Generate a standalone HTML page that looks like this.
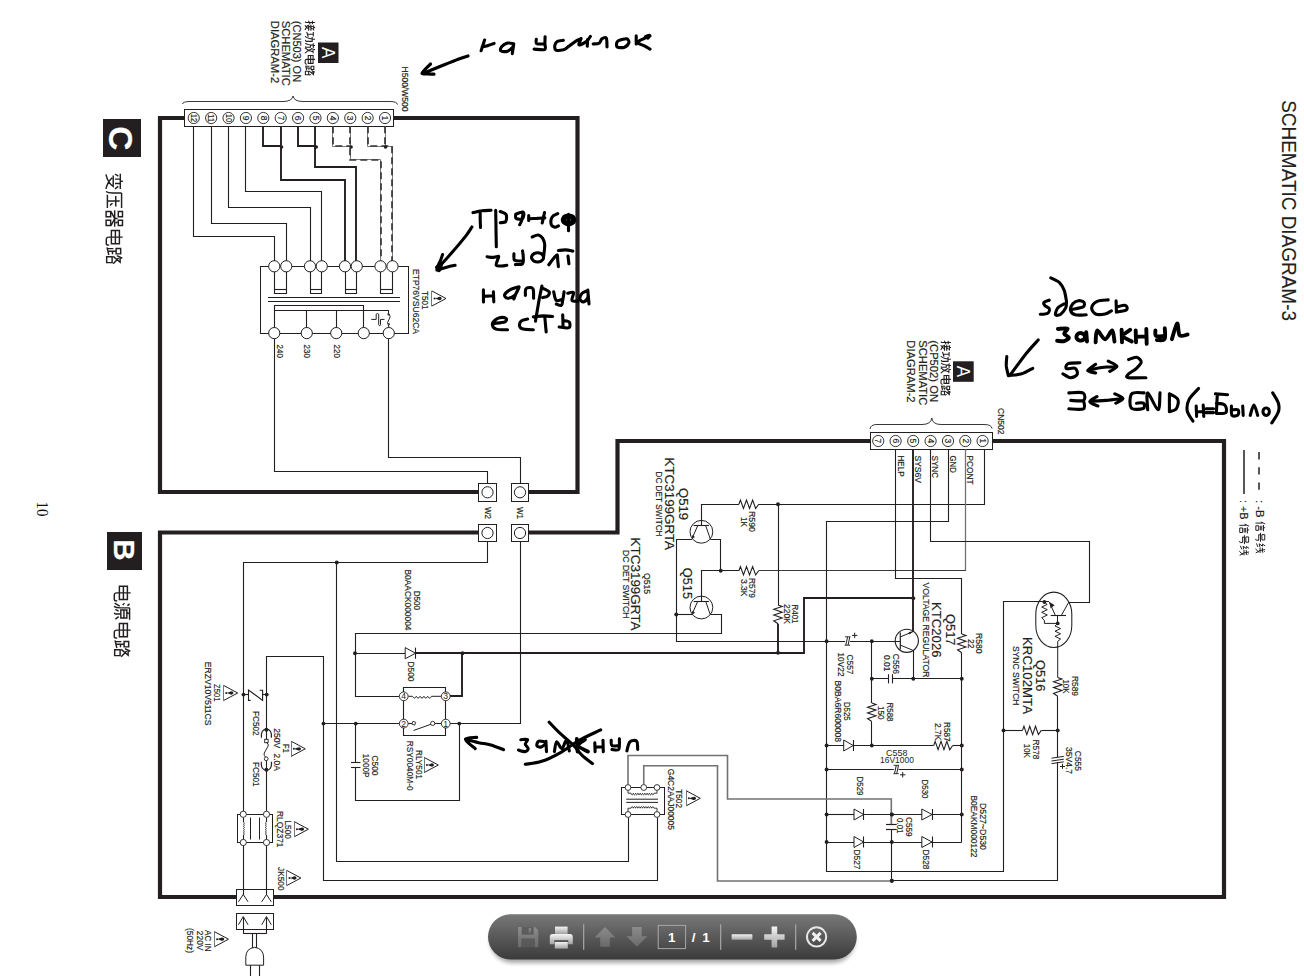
<!DOCTYPE html>
<html><head><meta charset="utf-8"><title>Schematic Diagram-3</title>
<style>html,body{margin:0;padding:0;background:#fff;overflow:hidden}svg{display:block}</style></head>
<body>
<svg width="1304" height="976" viewBox="0 0 1304 976">
<rect width="1304" height="976" fill="#fff"/>
<path d="M184 118 L160 118 L160 492 L478 492" stroke="#231f20" stroke-width="4.2" fill="none" />
<path d="M529 492 L577.5 492 L577.5 118 L394 118" stroke="#231f20" stroke-width="4.2" fill="none" />
<path d="M478 532.5 L160 532.5 L160 897 L236 897" stroke="#231f20" stroke-width="4.2" fill="none" />
<path d="M274 897 L1224 897 L1224 441 L992 441" stroke="#231f20" stroke-width="4.2" fill="none" />
<path d="M870 441 L617.5 441 L617.5 532.5 L529 532.5" stroke="#231f20" stroke-width="4.2" fill="none" />
<rect x="184.5" y="109.5" width="209" height="17" fill="#fff" stroke="#231f20" stroke-width="1"/>
<circle cx="193.75" cy="118" r="5.6" fill="#fff" stroke="#231f20" stroke-width="0.9"/>
<text transform="translate(190.954 113.9) rotate(90)" font-family="Liberation Sans" font-size="8.6" font-weight="normal" fill="#231f20" stroke="#231f20" stroke-width="0.18" textLength="8.2" lengthAdjust="spacingAndGlyphs">12</text>
<circle cx="211.14" cy="118" r="5.6" fill="#fff" stroke="#231f20" stroke-width="0.9"/>
<text transform="translate(208.344 113.9) rotate(90)" font-family="Liberation Sans" font-size="8.6" font-weight="normal" fill="#231f20" stroke="#231f20" stroke-width="0.18" textLength="8.2" lengthAdjust="spacingAndGlyphs">11</text>
<circle cx="228.53" cy="118" r="5.6" fill="#fff" stroke="#231f20" stroke-width="0.9"/>
<text transform="translate(225.734 113.9) rotate(90)" font-family="Liberation Sans" font-size="8.6" font-weight="normal" fill="#231f20" stroke="#231f20" stroke-width="0.18" textLength="8.2" lengthAdjust="spacingAndGlyphs">10</text>
<circle cx="245.92" cy="118" r="5.6" fill="#fff" stroke="#231f20" stroke-width="0.9"/>
<text transform="translate(243.124 115.65) rotate(90)" font-family="Liberation Sans" font-size="8.6" font-weight="normal" fill="#231f20" stroke="#231f20" stroke-width="0.18" textLength="4.7" lengthAdjust="spacingAndGlyphs">9</text>
<circle cx="263.31" cy="118" r="5.6" fill="#fff" stroke="#231f20" stroke-width="0.9"/>
<text transform="translate(260.514 115.65) rotate(90)" font-family="Liberation Sans" font-size="8.6" font-weight="normal" fill="#231f20" stroke="#231f20" stroke-width="0.18" textLength="4.7" lengthAdjust="spacingAndGlyphs">8</text>
<circle cx="280.7" cy="118" r="5.6" fill="#fff" stroke="#231f20" stroke-width="0.9"/>
<text transform="translate(277.904 115.65) rotate(90)" font-family="Liberation Sans" font-size="8.6" font-weight="normal" fill="#231f20" stroke="#231f20" stroke-width="0.18" textLength="4.7" lengthAdjust="spacingAndGlyphs">7</text>
<circle cx="298.09" cy="118" r="5.6" fill="#fff" stroke="#231f20" stroke-width="0.9"/>
<text transform="translate(295.294 115.65) rotate(90)" font-family="Liberation Sans" font-size="8.6" font-weight="normal" fill="#231f20" stroke="#231f20" stroke-width="0.18" textLength="4.7" lengthAdjust="spacingAndGlyphs">6</text>
<circle cx="315.48" cy="118" r="5.6" fill="#fff" stroke="#231f20" stroke-width="0.9"/>
<text transform="translate(312.684 115.65) rotate(90)" font-family="Liberation Sans" font-size="8.6" font-weight="normal" fill="#231f20" stroke="#231f20" stroke-width="0.18" textLength="4.7" lengthAdjust="spacingAndGlyphs">5</text>
<circle cx="332.87" cy="118" r="5.6" fill="#fff" stroke="#231f20" stroke-width="0.9"/>
<text transform="translate(330.074 115.65) rotate(90)" font-family="Liberation Sans" font-size="8.6" font-weight="normal" fill="#231f20" stroke="#231f20" stroke-width="0.18" textLength="4.7" lengthAdjust="spacingAndGlyphs">4</text>
<circle cx="350.26" cy="118" r="5.6" fill="#fff" stroke="#231f20" stroke-width="0.9"/>
<text transform="translate(347.464 115.65) rotate(90)" font-family="Liberation Sans" font-size="8.6" font-weight="normal" fill="#231f20" stroke="#231f20" stroke-width="0.18" textLength="4.7" lengthAdjust="spacingAndGlyphs">3</text>
<circle cx="367.65" cy="118" r="5.6" fill="#fff" stroke="#231f20" stroke-width="0.9"/>
<text transform="translate(364.854 115.65) rotate(90)" font-family="Liberation Sans" font-size="8.6" font-weight="normal" fill="#231f20" stroke="#231f20" stroke-width="0.18" textLength="4.7" lengthAdjust="spacingAndGlyphs">2</text>
<circle cx="385.04" cy="118" r="5.6" fill="#fff" stroke="#231f20" stroke-width="0.9"/>
<text transform="translate(382.244 115.65) rotate(90)" font-family="Liberation Sans" font-size="8.6" font-weight="normal" fill="#231f20" stroke="#231f20" stroke-width="0.18" textLength="4.7" lengthAdjust="spacingAndGlyphs">1</text>
<path d="M182.5 104 Q183 101.5 190 101.5 L283 101.5 Q292 101.5 293 96 Q294 101.5 303 101.5 L390 101.5 Q397 101.5 397.5 104.5" stroke="#231f20" stroke-width="0.9" fill="none"/>
<rect x="318" y="42.5" width="20.5" height="20.5" fill="#231f20"/>
<text transform="translate(321.52 47) rotate(90)" font-family="Liberation Sans" font-size="18" font-weight="normal" fill="#fff" stroke="#fff" stroke-width="0" textLength="11.4" lengthAdjust="spacingAndGlyphs">A</text>
<text transform="translate(293.424 20.8) rotate(90)" font-family="Liberation Sans" font-size="11.6" font-weight="normal" fill="#231f20" stroke="#231f20" stroke-width="0.18" textLength="61.4" lengthAdjust="spacingAndGlyphs">(CN503) ON</text>
<text transform="translate(282.324 20.8) rotate(90)" font-family="Liberation Sans" font-size="11.6" font-weight="normal" fill="#231f20" stroke="#231f20" stroke-width="0.18" textLength="65" lengthAdjust="spacingAndGlyphs">SCHEMATIC</text>
<text transform="translate(270.824 20.8) rotate(90)" font-family="Liberation Sans" font-size="11.6" font-weight="normal" fill="#231f20" stroke="#231f20" stroke-width="0.18" textLength="62.4" lengthAdjust="spacingAndGlyphs">DIAGRAM-2</text>
<text transform="translate(402.404 66.5) rotate(90)" font-family="Liberation Sans" font-size="8.6" font-weight="normal" fill="#231f20" stroke="#231f20" stroke-width="0.18" textLength="45" lengthAdjust="spacingAndGlyphs">H500/W500</text>
<path d="M193.5 126.3 L193.5 236.5 L274.5 236.5 L274.5 261" stroke="#231f20" stroke-width="1.1" fill="none" />
<path d="M211.5 126.3 L211.5 223.5 L286.5 223.5 L286.5 261" stroke="#231f20" stroke-width="1.1" fill="none" />
<path d="M228.5 126.3 L228.5 207.5 L310.5 207.5 L310.5 261" stroke="#231f20" stroke-width="1.1" fill="none" />
<path d="M245.5 126.3 L245.5 191.5 L321.5 191.5 L321.5 261" stroke="#231f20" stroke-width="1.1" fill="none" />
<path d="M263 126.3 L263 146 L280.7 146" stroke="#231f20" stroke-width="1.9" fill="none" />
<path d="M281 126.3 L281 180 L345 180 L345 261" stroke="#231f20" stroke-width="1.9" fill="none" />
<path d="M298 126.3 L298 146 L315.48 146" stroke="#231f20" stroke-width="1.9" fill="none" />
<path d="M315 126.3 L315 167 L356 167 L356 261" stroke="#231f20" stroke-width="1.9" fill="none" />
<circle cx="281.5" cy="147" r="1.8" fill="#231f20"/>
<circle cx="316.28" cy="147" r="1.8" fill="#231f20"/>
<path d="M332.5 126.3 L332.5 146.5 L350.26 146.5" stroke="#6d6a6b" stroke-width="0.9" fill="none" />
<path d="M333 126.3 L333 146 L350.26 146" stroke="#3a3637" stroke-width="1.7" fill="none" stroke-dasharray="7 4"/>
<path d="M350.5 126.3 L350.5 159.5 L380.5 159.5 L380.5 261" stroke="#6d6a6b" stroke-width="0.9" fill="none" />
<path d="M350 126.3 L350 160 L381 160 L381 261" stroke="#3a3637" stroke-width="1.7" fill="none" stroke-dasharray="7 4"/>
<path d="M367.5 126.3 L367.5 146.5 L392.5 146.5 L392.5 261" stroke="#6d6a6b" stroke-width="0.9" fill="none" />
<path d="M368 126.3 L368 146 L392 146 L392 261" stroke="#3a3637" stroke-width="1.7" fill="none" stroke-dasharray="7 4"/>
<path d="M385.5 126.3 L385.5 146.5" stroke="#6d6a6b" stroke-width="0.9" fill="none" />
<path d="M385 126.3 L385 146.5" stroke="#3a3637" stroke-width="1.7" fill="none" stroke-dasharray="7 4"/>
<circle cx="351.06" cy="147" r="1.8" fill="#231f20"/>
<circle cx="385.54" cy="147" r="1.8" fill="#231f20"/>
<rect x="260.5" y="266.5" width="148" height="67" fill="none" stroke="#231f20" stroke-width="1"/>
<path d="M274.5 266 L274.5 293.5 L286.5 293.5 L286.5 266" stroke="#231f20" stroke-width="1.1" fill="none" />
<path d="M274.25 289.5 L286.25 289.5" stroke="#231f20" stroke-width="1.1" fill="none" />
<path d="M310.5 266 L310.5 293.5 L321.5 293.5 L321.5 266" stroke="#231f20" stroke-width="1.1" fill="none" />
<path d="M310 289.5 L321.75 289.5" stroke="#231f20" stroke-width="1.1" fill="none" />
<path d="M345.5 266 L345.5 293.5 L356.5 293.5 L356.5 266" stroke="#231f20" stroke-width="1.1" fill="none" />
<path d="M345 289.5 L356.75 289.5" stroke="#231f20" stroke-width="1.1" fill="none" />
<path d="M380.5 266 L380.5 293.5 L392.5 293.5 L392.5 266" stroke="#231f20" stroke-width="1.1" fill="none" />
<path d="M380.5 289.5 L392.5 289.5" stroke="#231f20" stroke-width="1.1" fill="none" />
<path d="M268 297.5 L400 297.5" stroke="#231f20" stroke-width="1.1" fill="none" />
<path d="M268 301.5 L400 301.5" stroke="#231f20" stroke-width="1.1" fill="none" />
<path d="M274.5 333 L274.5 305.5 L363.5 305.5 L363.5 333" stroke="#231f20" stroke-width="1.1" fill="none" />
<path d="M274.25 310.5 L388.75 310.5" stroke="#231f20" stroke-width="1.1" fill="none" />
<path d="M306.5 310 L306.5 333" stroke="#231f20" stroke-width="1.1" fill="none" />
<path d="M336.5 310 L336.5 333" stroke="#231f20" stroke-width="1.1" fill="none" />
<path d="M388.5 310.2 L388.5 313 Q391.5 316.5 389 319.5 Q386 322.5 388.8 326 L388.6 328" stroke="#231f20" stroke-width="1" fill="none"/>
<path d="M387.2 313.2 L389.6 314.2 L388 316 Z M390 325.2 L387.6 324.2 L389.2 322.6 Z" fill="#231f20"/>
<path d="M371.3 319.4 H376.2 V314.6 Q376.2 313.6 377.4 313.6 Q378.7 313.6 378.7 314.6 V324.6 Q378.7 325.6 379.6 325.6 Q380.5 325.6 380.5 324.6 V319.4 H384.5" stroke="#231f20" stroke-width="1" fill="none"/>
<circle cx="274.25" cy="266.3" r="5.6" fill="#fff" stroke="#231f20" stroke-width="1"/>
<circle cx="286.25" cy="266.3" r="5.6" fill="#fff" stroke="#231f20" stroke-width="1"/>
<circle cx="310" cy="266.3" r="5.6" fill="#fff" stroke="#231f20" stroke-width="1"/>
<circle cx="321.75" cy="266.3" r="5.6" fill="#fff" stroke="#231f20" stroke-width="1"/>
<circle cx="345" cy="266.3" r="5.6" fill="#fff" stroke="#231f20" stroke-width="1"/>
<circle cx="356.75" cy="266.3" r="5.6" fill="#fff" stroke="#231f20" stroke-width="1"/>
<circle cx="380.5" cy="266.3" r="5.6" fill="#fff" stroke="#231f20" stroke-width="1"/>
<circle cx="392.5" cy="266.3" r="5.6" fill="#fff" stroke="#231f20" stroke-width="1"/>
<circle cx="274.25" cy="333.1" r="5.6" fill="#fff" stroke="#231f20" stroke-width="1"/>
<circle cx="306.75" cy="333.1" r="5.6" fill="#fff" stroke="#231f20" stroke-width="1"/>
<circle cx="336.25" cy="333.1" r="5.6" fill="#fff" stroke="#231f20" stroke-width="1"/>
<circle cx="363.75" cy="333.1" r="5.6" fill="#fff" stroke="#231f20" stroke-width="1"/>
<circle cx="388.75" cy="333.1" r="5.6" fill="#fff" stroke="#231f20" stroke-width="1"/>
<text transform="translate(277.404 344.5) rotate(90)" font-family="Liberation Sans" font-size="8.6" font-weight="normal" fill="#231f20" stroke="#231f20" stroke-width="0.18" textLength="13.5" lengthAdjust="spacingAndGlyphs">240</text>
<text transform="translate(304.404 344.5) rotate(90)" font-family="Liberation Sans" font-size="8.6" font-weight="normal" fill="#231f20" stroke="#231f20" stroke-width="0.18" textLength="13.5" lengthAdjust="spacingAndGlyphs">230</text>
<text transform="translate(334.404 344.5) rotate(90)" font-family="Liberation Sans" font-size="8.6" font-weight="normal" fill="#231f20" stroke="#231f20" stroke-width="0.18" textLength="13.5" lengthAdjust="spacingAndGlyphs">220</text>
<text transform="translate(422.044 291) rotate(90)" font-family="Liberation Sans" font-size="9.6" font-weight="normal" fill="#231f20" stroke="#231f20" stroke-width="0.18" textLength="18.5" lengthAdjust="spacingAndGlyphs">T501</text>
<text transform="translate(413.044 269) rotate(90)" font-family="Liberation Sans" font-size="9.6" font-weight="normal" fill="#231f20" stroke="#231f20" stroke-width="0.18" textLength="65" lengthAdjust="spacingAndGlyphs">ETP76VSU62CA</text>
<path d="M431.8 290.9 L446 298.5 L431.8 306.1" stroke="#231f20" stroke-width="1" fill="none"/>
<path d="M431.5 290.9 L431.5 306.1" stroke="#6b6869" stroke-width="0.9" fill="none" />
<circle cx="434.6" cy="298.5" r="1.05" fill="#231f20"/>
<path d="M435.7 298.15 L437.8 297.4 Q440.4 296.1 441.6 297.9 L441.6 299.1 Q440.4 300.9 437.8 299.6 L435.7 298.85 Z" fill="#231f20"/>
<path d="M274.5 338.7 L274.5 471.5 L487.5 471.5 L487.5 483.3" stroke="#231f20" stroke-width="1.1" fill="none" />
<path d="M388.5 338.7 L388.5 457.5 L520.5 457.5 L520.5 483.3" stroke="#231f20" stroke-width="1.1" fill="none" />
<rect x="478.5" y="483.5" width="18" height="18" fill="#fff" stroke="#231f20" stroke-width="1"/>
<circle cx="487.5" cy="492.3" r="5.6" fill="#fff" stroke="#231f20" stroke-width="1"/>
<rect x="478.5" y="524.5" width="18" height="17" fill="#fff" stroke="#231f20" stroke-width="1"/>
<circle cx="487.5" cy="533" r="5.6" fill="#fff" stroke="#231f20" stroke-width="1"/>
<rect x="511.5" y="483.5" width="17" height="18" fill="#fff" stroke="#231f20" stroke-width="1"/>
<circle cx="520" cy="492.3" r="5.6" fill="#fff" stroke="#231f20" stroke-width="1"/>
<rect x="511.5" y="524.5" width="17" height="17" fill="#fff" stroke="#231f20" stroke-width="1"/>
<circle cx="520" cy="533" r="5.6" fill="#fff" stroke="#231f20" stroke-width="1"/>
<text transform="translate(484.504 507) rotate(90)" font-family="Liberation Sans" font-size="8.6" font-weight="normal" fill="#231f20" stroke="#231f20" stroke-width="0.18" textLength="12" lengthAdjust="spacingAndGlyphs">W2</text>
<text transform="translate(516.504 507) rotate(90)" font-family="Liberation Sans" font-size="8.6" font-weight="normal" fill="#231f20" stroke="#231f20" stroke-width="0.18" textLength="12" lengthAdjust="spacingAndGlyphs">W1</text>
<path d="M487.5 541.7 L487.5 562.5 L243.5 562.5 L243.5 811" stroke="#231f20" stroke-width="1.1" fill="none" />
<circle cx="336.75" cy="562.5" r="2" fill="#231f20"/>
<path d="M336.5 562.3 L336.5 861.5 L628.5 861.5 L628.5 817.5" stroke="#231f20" stroke-width="1.1" fill="none" />
<path d="M520.5 541.7 L520.5 723.5 L450 723.5" stroke="#231f20" stroke-width="1.1" fill="none" />
<rect x="103" y="119" width="38" height="38" fill="#231f20"/>
<text transform="translate(109.24 126.2) rotate(90)" font-family="Liberation Sans" font-size="33.5" font-weight="bold" fill="#fff" stroke="#fff" stroke-width="0.18" textLength="24.2" lengthAdjust="spacingAndGlyphs">C</text>
<rect x="107" y="532" width="35" height="38" fill="#231f20"/>
<text transform="translate(113.744 539.2) rotate(90)" font-family="Liberation Sans" font-size="29.6" font-weight="bold" fill="#fff" stroke="#fff" stroke-width="0.18" textLength="21.4" lengthAdjust="spacingAndGlyphs">B</text>
<text transform="translate(36.88 501.5) rotate(90)" font-family="Liberation Serif" font-size="17" font-weight="normal" fill="#111" stroke="#111" stroke-width="0" textLength="15" lengthAdjust="spacingAndGlyphs">10</text>
<text transform="translate(1281.84 100.2) rotate(90)" font-family="Liberation Sans" font-size="19.6" font-weight="normal" fill="#231f20" stroke="#231f20" stroke-width="0.1" textLength="220.8" lengthAdjust="spacingAndGlyphs">SCHEMATIC DIAGRAM-3</text>
<path d="M1244 450 L1244 494" stroke="#231f20" stroke-width="1.5" fill="none" />
<path d="M1259 452 L1259 490" stroke="#231f20" stroke-width="1.5" fill="none" stroke-dasharray="7.4 7.8"/>
<text transform="translate(1240.02 500) rotate(90)" font-family="Liberation Sans" font-size="10.5" font-weight="normal" fill="#231f20" stroke="#231f20" stroke-width="0.18" textLength="19.5" lengthAdjust="spacingAndGlyphs">: +B</text>
<text transform="translate(1256.42 500) rotate(90)" font-family="Liberation Sans" font-size="10.5" font-weight="normal" fill="#231f20" stroke="#231f20" stroke-width="0.18" textLength="17.5" lengthAdjust="spacingAndGlyphs">: -B</text>
<rect x="870.5" y="432.5" width="122" height="17" fill="#fff" stroke="#231f20" stroke-width="1"/>
<circle cx="878.25" cy="441" r="5.6" fill="#fff" stroke="#231f20" stroke-width="0.9"/>
<text transform="translate(875.454 438.6) rotate(90)" font-family="Liberation Sans" font-size="8.6" font-weight="normal" fill="#231f20" stroke="#231f20" stroke-width="0.18" textLength="4.7" lengthAdjust="spacingAndGlyphs">7</text>
<circle cx="895.6" cy="441" r="5.6" fill="#fff" stroke="#231f20" stroke-width="0.9"/>
<text transform="translate(892.804 438.6) rotate(90)" font-family="Liberation Sans" font-size="8.6" font-weight="normal" fill="#231f20" stroke="#231f20" stroke-width="0.18" textLength="4.7" lengthAdjust="spacingAndGlyphs">6</text>
<circle cx="913.2" cy="441" r="5.6" fill="#fff" stroke="#231f20" stroke-width="0.9"/>
<text transform="translate(910.404 438.6) rotate(90)" font-family="Liberation Sans" font-size="8.6" font-weight="normal" fill="#231f20" stroke="#231f20" stroke-width="0.18" textLength="4.7" lengthAdjust="spacingAndGlyphs">5</text>
<circle cx="930.6" cy="441" r="5.6" fill="#fff" stroke="#231f20" stroke-width="0.9"/>
<text transform="translate(927.804 438.6) rotate(90)" font-family="Liberation Sans" font-size="8.6" font-weight="normal" fill="#231f20" stroke="#231f20" stroke-width="0.18" textLength="4.7" lengthAdjust="spacingAndGlyphs">4</text>
<circle cx="948" cy="441" r="5.6" fill="#fff" stroke="#231f20" stroke-width="0.9"/>
<text transform="translate(945.204 438.6) rotate(90)" font-family="Liberation Sans" font-size="8.6" font-weight="normal" fill="#231f20" stroke="#231f20" stroke-width="0.18" textLength="4.7" lengthAdjust="spacingAndGlyphs">3</text>
<circle cx="965.3" cy="441" r="5.6" fill="#fff" stroke="#231f20" stroke-width="0.9"/>
<text transform="translate(962.504 438.6) rotate(90)" font-family="Liberation Sans" font-size="8.6" font-weight="normal" fill="#231f20" stroke="#231f20" stroke-width="0.18" textLength="4.7" lengthAdjust="spacingAndGlyphs">2</text>
<circle cx="982.6" cy="441" r="5.6" fill="#fff" stroke="#231f20" stroke-width="0.9"/>
<text transform="translate(979.804 438.6) rotate(90)" font-family="Liberation Sans" font-size="8.6" font-weight="normal" fill="#231f20" stroke="#231f20" stroke-width="0.18" textLength="4.7" lengthAdjust="spacingAndGlyphs">1</text>
<path d="M870 429 Q870.5 424.5 877 424.5 L922 424.5 Q931 424.5 931.8 418 Q932.6 424.5 941 424.5 L984 424.5 Q991.5 424.5 992 428.5" stroke="#231f20" stroke-width="0.9" fill="none"/>
<rect x="953" y="361.3" width="20.7" height="20.5" fill="#231f20"/>
<text transform="translate(956.82 365.8) rotate(90)" font-family="Liberation Sans" font-size="18" font-weight="normal" fill="#fff" stroke="#fff" stroke-width="0" textLength="11.4" lengthAdjust="spacingAndGlyphs">A</text>
<text transform="translate(929.824 340.3) rotate(90)" font-family="Liberation Sans" font-size="11.6" font-weight="normal" fill="#231f20" stroke="#231f20" stroke-width="0.18" textLength="61.7" lengthAdjust="spacingAndGlyphs">(CP502) ON</text>
<text transform="translate(918.824 340.3) rotate(90)" font-family="Liberation Sans" font-size="11.6" font-weight="normal" fill="#231f20" stroke="#231f20" stroke-width="0.18" textLength="65" lengthAdjust="spacingAndGlyphs">SCHEMATIC</text>
<text transform="translate(907.124 340.3) rotate(90)" font-family="Liberation Sans" font-size="11.6" font-weight="normal" fill="#231f20" stroke="#231f20" stroke-width="0.18" textLength="62.3" lengthAdjust="spacingAndGlyphs">DIAGRAM-2</text>
<text transform="translate(998.104 408) rotate(90)" font-family="Liberation Sans" font-size="8.6" font-weight="normal" fill="#231f20" stroke="#231f20" stroke-width="0.18" textLength="26.5" lengthAdjust="spacingAndGlyphs">CN502</text>
<text transform="translate(897.704 455.5) rotate(90)" font-family="Liberation Sans" font-size="8.6" font-weight="normal" fill="#231f20" stroke="#231f20" stroke-width="0.18" textLength="21" lengthAdjust="spacingAndGlyphs">HELP</text>
<text transform="translate(915.104 455.5) rotate(90)" font-family="Liberation Sans" font-size="8.6" font-weight="normal" fill="#231f20" stroke="#231f20" stroke-width="0.18" textLength="27.5" lengthAdjust="spacingAndGlyphs">SYS6V</text>
<text transform="translate(932.304 455.5) rotate(90)" font-family="Liberation Sans" font-size="8.6" font-weight="normal" fill="#231f20" stroke="#231f20" stroke-width="0.18" textLength="22.5" lengthAdjust="spacingAndGlyphs">SYNC</text>
<text transform="translate(949.704 455.5) rotate(90)" font-family="Liberation Sans" font-size="8.6" font-weight="normal" fill="#231f20" stroke="#231f20" stroke-width="0.18" textLength="17.5" lengthAdjust="spacingAndGlyphs">GND</text>
<text transform="translate(967.104 455.5) rotate(90)" font-family="Liberation Sans" font-size="8.6" font-weight="normal" fill="#231f20" stroke="#231f20" stroke-width="0.18" textLength="29" lengthAdjust="spacingAndGlyphs">PCONT</text>
<path d="M984.5 449.3 L984.5 504.5 L758.7 504.5" stroke="#231f20" stroke-width="1.1" fill="none" />
<path d="M965.5 449.3 L965.5 570.9" stroke="#757273" stroke-width="1.3" fill="none" />
<path d="M965.8 570.5 L758.7 570.5" stroke="#3c3839" stroke-width="1.1" fill="none" />
<path d="M948.5 449.3 L948.5 521.5 L826.5 521.5 L826.5 871.5 L1003.5 871.5 L1003.5 601.5 L1049 601.5" stroke="#231f20" stroke-width="1.1" fill="none" />
<path d="M930.5 449.3 L930.5 541.5 L1089.5 541.5 L1089.5 602.5 L1068.7 602.5" stroke="#231f20" stroke-width="1.1" fill="none" />
<path d="M913 449.3 L913 632" stroke="#231f20" stroke-width="1.9" fill="none" />
<path d="M895.5 449.3 L895.5 578.5 L961.5 578.5 L961.5 634" stroke="#231f20" stroke-width="1.1" fill="none" />
<circle cx="701.4" cy="531.8" r="11.4" fill="none" stroke="#231f20" stroke-width="1"/>
<path d="M693.6 525.5 L709 525.5" stroke="#231f20" stroke-width="1.1" fill="none" />
<path d="M697.8 525.4 L692.2 538.2" stroke="#231f20" stroke-width="1" fill="none" />
<path d="M705.6 525.4 L710.3 539" stroke="#231f20" stroke-width="1" fill="none" />
<path d="M691.8 539 L692.4 535 L695 537 Z" fill="#231f20"/>
<circle cx="701.4" cy="607.5" r="11.4" fill="none" stroke="#231f20" stroke-width="1"/>
<path d="M693.6 601.5 L709 601.5" stroke="#231f20" stroke-width="1.1" fill="none" />
<path d="M697.8 601.1 L692.2 613.9" stroke="#231f20" stroke-width="1" fill="none" />
<path d="M705.6 601.1 L710.3 614.7" stroke="#231f20" stroke-width="1" fill="none" />
<path d="M691.8 614.7 L692.4 610.7 L695 612.7 Z" fill="#231f20"/>
<path d="M701.5 525.4 L701.5 504.5 L738.9 504.5" stroke="#231f20" stroke-width="1.1" fill="none" />
<path d="M738.9 504.3 L740.423 500.1 L743.469 508.5 L746.515 500.1 L749.562 508.5 L752.608 500.1 L755.654 508.5 L758.7 504.3" stroke="#231f20" stroke-width="1.1" fill="none" />
<circle cx="778" cy="504.3" r="2" fill="#231f20"/>
<path d="M692 539.5 L676.5 539.5 L676.5 641.5 L847 641.5" stroke="#231f20" stroke-width="1.1" fill="none" />
<path d="M710.4 539.5 L720.5 539.5 L720.5 570.7" stroke="#231f20" stroke-width="1.1" fill="none" />
<circle cx="720.75" cy="570.7" r="1.95" fill="#231f20"/>
<path d="M701.5 601 L701.5 570.5 L738.9 570.5" stroke="#231f20" stroke-width="1.1" fill="none" />
<path d="M738.9 570.7 L740.423 566.5 L743.469 574.9 L746.515 566.5 L749.562 574.9 L752.608 566.5 L755.654 574.9 L758.7 570.7" stroke="#231f20" stroke-width="1.1" fill="none" />
<circle cx="676.25" cy="614.5" r="1.95" fill="#231f20"/>
<path d="M676.25 614.5 L692 614.5" stroke="#231f20" stroke-width="1.1" fill="none" />
<path d="M710.4 614.5 L721.5 614.5 L721.5 633.5 L355.5 633.5 L355.5 696.5 L399 696.5" stroke="#231f20" stroke-width="1.1" fill="none" />
<path d="M778.5 504.3 L778.5 605" stroke="#231f20" stroke-width="1.1" fill="none" />
<path d="M778 605 L782.2 606.438 L773.8 609.315 L782.2 612.192 L773.8 615.069 L782.2 617.946 L773.8 620.823 L778 623.7" stroke="#231f20" stroke-width="1.1" fill="none" />
<path d="M778 623.7 L778 652.7" stroke="#231f20" stroke-width="1.9" fill="none" />
<circle cx="778" cy="652.7" r="1.95" fill="#231f20"/>
<path d="M415.5 653 L804 653 L804 598 L913.3 598" stroke="#231f20" stroke-width="1.9" fill="none" />
<circle cx="913.3" cy="598.2" r="1.95" fill="#231f20"/>
<text transform="translate(678.548 488) rotate(90)" font-family="Liberation Sans" font-size="13.2" font-weight="normal" fill="#231f20" stroke="#231f20" stroke-width="0.18" textLength="32" lengthAdjust="spacingAndGlyphs">Q519</text>
<text transform="translate(664.748 457.5) rotate(90)" font-family="Liberation Sans" font-size="13.2" font-weight="normal" fill="#231f20" stroke="#231f20" stroke-width="0.18" textLength="92.5" lengthAdjust="spacingAndGlyphs">KTC3199GRTA</text>
<text transform="translate(655.56 471.5) rotate(90)" font-family="Liberation Sans" font-size="9" font-weight="normal" fill="#231f20" stroke="#231f20" stroke-width="0.18" textLength="65" lengthAdjust="spacingAndGlyphs">DC DET SWITCH</text>
<text transform="translate(683.248 567.7) rotate(90)" font-family="Liberation Sans" font-size="13.2" font-weight="normal" fill="#231f20" stroke="#231f20" stroke-width="0.18" textLength="31.3" lengthAdjust="spacingAndGlyphs">Q515</text>
<text transform="translate(630.548 537.5) rotate(90)" font-family="Liberation Sans" font-size="13.2" font-weight="normal" fill="#231f20" stroke="#231f20" stroke-width="0.18" textLength="93" lengthAdjust="spacingAndGlyphs">KTC3199GRTA</text>
<text transform="translate(644.404 573) rotate(90)" font-family="Liberation Sans" font-size="8.6" font-weight="normal" fill="#231f20" stroke="#231f20" stroke-width="0.18" textLength="21" lengthAdjust="spacingAndGlyphs">Q515</text>
<text transform="translate(622.76 550) rotate(90)" font-family="Liberation Sans" font-size="9" font-weight="normal" fill="#231f20" stroke="#231f20" stroke-width="0.18" textLength="68.5" lengthAdjust="spacingAndGlyphs">DC DET SWITCH</text>
<text transform="translate(749.344 511) rotate(90)" font-family="Liberation Sans" font-size="9.6" font-weight="normal" fill="#231f20" stroke="#231f20" stroke-width="0.18" textLength="21" lengthAdjust="spacingAndGlyphs">R590</text>
<text transform="translate(740.544 517) rotate(90)" font-family="Liberation Sans" font-size="9.6" font-weight="normal" fill="#231f20" stroke="#231f20" stroke-width="0.18" textLength="10" lengthAdjust="spacingAndGlyphs">1K</text>
<text transform="translate(749.344 578) rotate(90)" font-family="Liberation Sans" font-size="9.6" font-weight="normal" fill="#231f20" stroke="#231f20" stroke-width="0.18" textLength="20" lengthAdjust="spacingAndGlyphs">R579</text>
<text transform="translate(740.544 579) rotate(90)" font-family="Liberation Sans" font-size="9.6" font-weight="normal" fill="#231f20" stroke="#231f20" stroke-width="0.18" textLength="17.5" lengthAdjust="spacingAndGlyphs">3.3K</text>
<text transform="translate(792.044 604.5) rotate(90)" font-family="Liberation Sans" font-size="9.6" font-weight="normal" fill="#231f20" stroke="#231f20" stroke-width="0.18" textLength="19" lengthAdjust="spacingAndGlyphs">R401</text>
<text transform="translate(783.544 604) rotate(90)" font-family="Liberation Sans" font-size="9.6" font-weight="normal" fill="#231f20" stroke="#231f20" stroke-width="0.18" textLength="20" lengthAdjust="spacingAndGlyphs">220K</text>
<path d="M847 641.5 L900.3 641.5" stroke="#231f20" stroke-width="1.1" fill="none" />
<circle cx="826.6" cy="641.2" r="1.95" fill="#231f20"/>
<circle cx="871.8" cy="641.2" r="1.95" fill="#231f20"/>
<rect x="845.1" y="637" width="4.8" height="8" fill="#fff"/>
<path d="M847.6 636.8 L845.8 645.2" stroke="#231f20" stroke-width="1" fill="none" />
<path d="M849.8 636.8 L848 645.2" stroke="#231f20" stroke-width="1" fill="none" />
<path d="M844.9 636.8 L850.3 636.8" stroke="#231f20" stroke-width="0.9" fill="none" />
<path d="M844.7 645.2 L850.1 645.2" stroke="#231f20" stroke-width="0.9" fill="none" />
<path d="M852 635.4 L857.4 635.4" stroke="#231f20" stroke-width="1" fill="none" />
<path d="M854.7 632.7 L854.7 638.1" stroke="#231f20" stroke-width="1" fill="none" />
<circle cx="906.8" cy="640.8" r="11.6" fill="none" stroke="#231f20" stroke-width="1.15"/>
<path d="M900.3 632.6 L900.3 649.4" stroke="#231f20" stroke-width="1.2" fill="none" />
<path d="M900.3 636.9 L912.9 631.7" stroke="#231f20" stroke-width="1" fill="none" />
<path d="M900.3 645.1 L912.9 650.3" stroke="#231f20" stroke-width="1" fill="none" />
<path d="M912.9 631.6 L909.6 634.6 L908.6 632 Z" fill="#231f20"/>
<path d="M913.5 650 L913.5 678.8" stroke="#231f20" stroke-width="1.1" fill="none" />
<path d="M871.5 641.2 L871.5 703" stroke="#231f20" stroke-width="1.1" fill="none" />
<path d="M871.8 678.5 L961.75 678.5" stroke="#231f20" stroke-width="1.1" fill="none" />
<rect x="888.6" y="673.8" width="3.6" height="10" fill="#fff"/>
<path d="M888.5 674.2 L888.5 683.4" stroke="#231f20" stroke-width="1.1" fill="none" />
<path d="M892.5 674.2 L892.5 683.4" stroke="#231f20" stroke-width="1.1" fill="none" />
<circle cx="871.8" cy="678.8" r="1.95" fill="#231f20"/>
<circle cx="913.3" cy="678.8" r="1.95" fill="#231f20"/>
<circle cx="961.75" cy="678.8" r="1.95" fill="#231f20"/>
<path d="M871.8 703 L876 704.423 L867.6 707.269 L876 710.115 L867.6 712.962 L876 715.808 L867.6 718.654 L871.8 721.5" stroke="#231f20" stroke-width="1.1" fill="none" />
<path d="M871.5 721.5 L871.5 745.5" stroke="#231f20" stroke-width="1.1" fill="none" />
<path d="M961.75 634 L965.95 635.438 L957.55 638.315 L965.95 641.192 L957.55 644.069 L965.95 646.946 L957.55 649.823 L961.75 652.7" stroke="#231f20" stroke-width="1.1" fill="none" />
<path d="M961.5 652.7 L961.5 842" stroke="#231f20" stroke-width="1.1" fill="none" />
<path d="M826.6 745.5 L933.7 745.5" stroke="#231f20" stroke-width="1.1" fill="none" />
<path d="M933.7 745.5 L935.162 741.3 L938.085 749.7 L941.008 741.3 L943.931 749.7 L946.854 741.3 L949.777 749.7 L952.7 745.5" stroke="#231f20" stroke-width="1.1" fill="none" />
<path d="M952.7 745.5 L961.75 745.5" stroke="#231f20" stroke-width="1.1" fill="none" />
<circle cx="826.6" cy="745.5" r="1.95" fill="#231f20"/>
<circle cx="871.8" cy="745.5" r="1.95" fill="#231f20"/>
<circle cx="961.75" cy="745.5" r="1.95" fill="#231f20"/>
<path d="M843.7 740 L853.2 745.5 L843.7 751 Z" fill="#fff" stroke="#231f20" stroke-width="1"/>
<path d="M853.5 740 L853.5 751" stroke="#231f20" stroke-width="1.1" fill="none" />
<path d="M826.6 769.5 L961.75 769.5" stroke="#231f20" stroke-width="1.1" fill="none" />
<circle cx="826.6" cy="769.5" r="1.95" fill="#231f20"/>
<circle cx="961.75" cy="769.5" r="1.95" fill="#231f20"/>
<rect x="893.8" y="765.5" width="4.8" height="8" fill="#fff"/>
<path d="M896.3 765.3 L894.5 773.7" stroke="#231f20" stroke-width="1" fill="none" />
<path d="M898.5 765.3 L896.7 773.7" stroke="#231f20" stroke-width="1" fill="none" />
<path d="M893.6 765.3 L899 765.3" stroke="#231f20" stroke-width="0.9" fill="none" />
<path d="M893.4 773.7 L898.8 773.7" stroke="#231f20" stroke-width="0.9" fill="none" />
<path d="M900 774.8 L905.4 774.8" stroke="#231f20" stroke-width="1" fill="none" />
<path d="M902.7 772.1 L902.7 777.5" stroke="#231f20" stroke-width="1" fill="none" />
<path d="M826.6 814.5 L961.75 814.5" stroke="#231f20" stroke-width="1.1" fill="none" />
<path d="M826.6 842.5 L961.75 842.5" stroke="#231f20" stroke-width="1.1" fill="none" />
<path d="M854 809 L863.7 814.5 L854 820 Z" fill="#fff" stroke="#231f20" stroke-width="1"/>
<path d="M863.5 809 L863.5 820" stroke="#231f20" stroke-width="1.1" fill="none" />
<path d="M921.8 809 L932 814.5 L921.8 820 Z" fill="#fff" stroke="#231f20" stroke-width="1"/>
<path d="M932.5 809 L932.5 820" stroke="#231f20" stroke-width="1.1" fill="none" />
<circle cx="826.6" cy="814.5" r="1.95" fill="#231f20"/>
<circle cx="891.8" cy="814.5" r="1.95" fill="#231f20"/>
<path d="M854 836.5 L863.7 842 L854 847.5 Z" fill="#fff" stroke="#231f20" stroke-width="1"/>
<path d="M863.5 836.5 L863.5 847.5" stroke="#231f20" stroke-width="1.1" fill="none" />
<path d="M921.8 836.5 L932 842 L921.8 847.5 Z" fill="#fff" stroke="#231f20" stroke-width="1"/>
<path d="M932.5 836.5 L932.5 847.5" stroke="#231f20" stroke-width="1.1" fill="none" />
<circle cx="826.6" cy="842" r="1.95" fill="#231f20"/>
<circle cx="891.8" cy="842" r="1.95" fill="#231f20"/>
<circle cx="961.75" cy="814.5" r="1.95" fill="#231f20"/>
<path d="M891.5 814.5 L891.5 880.8" stroke="#231f20" stroke-width="1.1" fill="none" />
<rect x="886" y="824.5" width="10.5" height="4.5" fill="#fff"/>
<path d="M886 824.5 L896.5 824.5" stroke="#231f20" stroke-width="1.1" fill="none" />
<path d="M886 829.5 L896.5 829.5" stroke="#231f20" stroke-width="1.1" fill="none" />
<circle cx="891.8" cy="880.8" r="1.95" fill="#231f20"/>
<path d="M891.8 880.5 L1057.5 880.5 L1057.5 696.3" stroke="#231f20" stroke-width="1.1" fill="none" />
<path d="M628 784.5 L628 755.5 L727.5 755.5 L727.5 799 L891.3 799 L891.3 824.5" stroke="#737172" stroke-width="1.6" fill="none" />
<path d="M643.75 784.5 L643.75 765.8 L717.5 765.8 L717.5 881 L891.8 881" stroke="#737172" stroke-width="1.6" fill="none" />
<circle cx="891.8" cy="814.5" r="1.95" fill="#231f20"/>
<circle cx="891.8" cy="880.8" r="1.95" fill="#231f20"/>
<path d="M886 824.5 L896.5 824.5" stroke="#231f20" stroke-width="1.1" fill="none" />
<path d="M886 829.5 L896.5 829.5" stroke="#231f20" stroke-width="1.1" fill="none" />
<path d="M826.6 814.5 L854 814.5" stroke="#231f20" stroke-width="1.1" fill="none" />
<path d="M863.7 814.5 L921.8 814.5" stroke="#231f20" stroke-width="1.1" fill="none" />
<text transform="translate(945.548 614) rotate(90)" font-family="Liberation Sans" font-size="13.2" font-weight="normal" fill="#231f20" stroke="#231f20" stroke-width="0.18" textLength="31.5" lengthAdjust="spacingAndGlyphs">Q517</text>
<text transform="translate(931.548 602) rotate(90)" font-family="Liberation Sans" font-size="13.2" font-weight="normal" fill="#231f20" stroke="#231f20" stroke-width="0.18" textLength="55.5" lengthAdjust="spacingAndGlyphs">KTC2026</text>
<text transform="translate(923.06 582.5) rotate(90)" font-family="Liberation Sans" font-size="9" font-weight="normal" fill="#231f20" stroke="#231f20" stroke-width="0.18" textLength="95" lengthAdjust="spacingAndGlyphs">VOLTAGE REGULATOR</text>
<text transform="translate(975.844 633) rotate(90)" font-family="Liberation Sans" font-size="9.6" font-weight="normal" fill="#231f20" stroke="#231f20" stroke-width="0.18" textLength="20.5" lengthAdjust="spacingAndGlyphs">R580</text>
<text transform="translate(967.544 639) rotate(90)" font-family="Liberation Sans" font-size="9.6" font-weight="normal" fill="#231f20" stroke="#231f20" stroke-width="0.18" textLength="9.5" lengthAdjust="spacingAndGlyphs">22</text>
<text transform="translate(847.344 654.5) rotate(90)" font-family="Liberation Sans" font-size="9.6" font-weight="normal" fill="#231f20" stroke="#231f20" stroke-width="0.18" textLength="20" lengthAdjust="spacingAndGlyphs">C557</text>
<text transform="translate(837.544 652.5) rotate(90)" font-family="Liberation Sans" font-size="9.6" font-weight="normal" fill="#231f20" stroke="#231f20" stroke-width="0.18" textLength="24" lengthAdjust="spacingAndGlyphs">10V22</text>
<text transform="translate(843.844 702) rotate(90)" font-family="Liberation Sans" font-size="9.6" font-weight="normal" fill="#231f20" stroke="#231f20" stroke-width="0.18" textLength="18.5" lengthAdjust="spacingAndGlyphs">D525</text>
<text transform="translate(834.544 680.5) rotate(90)" font-family="Liberation Sans" font-size="9.6" font-weight="normal" fill="#231f20" stroke="#231f20" stroke-width="0.18" textLength="61.5" lengthAdjust="spacingAndGlyphs">B0BA6R600008</text>
<text transform="translate(892.744 653.8) rotate(90)" font-family="Liberation Sans" font-size="9.6" font-weight="normal" fill="#231f20" stroke="#231f20" stroke-width="0.18" textLength="20.2" lengthAdjust="spacingAndGlyphs">C556</text>
<text transform="translate(883.844 655) rotate(90)" font-family="Liberation Sans" font-size="9.6" font-weight="normal" fill="#231f20" stroke="#231f20" stroke-width="0.18" textLength="16.5" lengthAdjust="spacingAndGlyphs">0.01</text>
<text transform="translate(886.544 702.5) rotate(90)" font-family="Liberation Sans" font-size="9.6" font-weight="normal" fill="#231f20" stroke="#231f20" stroke-width="0.18" textLength="19" lengthAdjust="spacingAndGlyphs">R588</text>
<text transform="translate(877.544 706) rotate(90)" font-family="Liberation Sans" font-size="9.6" font-weight="normal" fill="#231f20" stroke="#231f20" stroke-width="0.18" textLength="13.5" lengthAdjust="spacingAndGlyphs">150</text>
<text transform="translate(943.844 722) rotate(90)" font-family="Liberation Sans" font-size="9.6" font-weight="normal" fill="#231f20" stroke="#231f20" stroke-width="0.18" textLength="19.5" lengthAdjust="spacingAndGlyphs">R587</text>
<text transform="translate(935.344 723) rotate(90)" font-family="Liberation Sans" font-size="9.6" font-weight="normal" fill="#231f20" stroke="#231f20" stroke-width="0.18" textLength="17.5" lengthAdjust="spacingAndGlyphs">2.7K</text>
<text x="886" y="755.8" font-family="Liberation Sans" font-size="9.6" font-weight="normal" fill="#231f20" textLength="21.5" lengthAdjust="spacingAndGlyphs">C558</text>
<text x="880" y="763.4" font-family="Liberation Sans" font-size="9.6" font-weight="normal" fill="#231f20" textLength="34" lengthAdjust="spacingAndGlyphs">16V1000</text>
<text transform="translate(856.544 776.5) rotate(90)" font-family="Liberation Sans" font-size="9.6" font-weight="normal" fill="#231f20" stroke="#231f20" stroke-width="0.18" textLength="19" lengthAdjust="spacingAndGlyphs">D529</text>
<text transform="translate(921.544 779.5) rotate(90)" font-family="Liberation Sans" font-size="9.6" font-weight="normal" fill="#231f20" stroke="#231f20" stroke-width="0.18" textLength="19" lengthAdjust="spacingAndGlyphs">D530</text>
<text transform="translate(854.044 849.5) rotate(90)" font-family="Liberation Sans" font-size="9.6" font-weight="normal" fill="#231f20" stroke="#231f20" stroke-width="0.18" textLength="20" lengthAdjust="spacingAndGlyphs">D527</text>
<text transform="translate(922.544 849.5) rotate(90)" font-family="Liberation Sans" font-size="9.6" font-weight="normal" fill="#231f20" stroke="#231f20" stroke-width="0.18" textLength="20" lengthAdjust="spacingAndGlyphs">D528</text>
<text transform="translate(905.844 817) rotate(90)" font-family="Liberation Sans" font-size="9.6" font-weight="normal" fill="#231f20" stroke="#231f20" stroke-width="0.18" textLength="19.5" lengthAdjust="spacingAndGlyphs">C559</text>
<text transform="translate(896.544 818) rotate(90)" font-family="Liberation Sans" font-size="9.6" font-weight="normal" fill="#231f20" stroke="#231f20" stroke-width="0.18" textLength="15.5" lengthAdjust="spacingAndGlyphs">0.01</text>
<text transform="translate(979.744 803) rotate(90)" font-family="Liberation Sans" font-size="9.6" font-weight="normal" fill="#231f20" stroke="#231f20" stroke-width="0.18" textLength="47" lengthAdjust="spacingAndGlyphs">D527~D530</text>
<text transform="translate(970.544 795.5) rotate(90)" font-family="Liberation Sans" font-size="9.6" font-weight="normal" fill="#231f20" stroke="#231f20" stroke-width="0.18" textLength="62" lengthAdjust="spacingAndGlyphs">B0EAKM000122</text>
<rect x="1035.8" y="592.1" width="36" height="55.4" rx="18" ry="22" fill="none" stroke="#231f20" stroke-width="1.05"/>
<circle cx="1044.4" cy="602" r="1.9" fill="#231f20"/>
<path d="M1044.4 601.6 L1047 604.5 L1041.7 607 L1047.3 609.7 L1041.7 612.3 L1047.3 615 L1041.7 617.7 L1044.4 620.3 L1044.4 623.4 L1057.7 623.4" stroke="#231f20" stroke-width="1" fill="none" />
<path d="M1050.7 615.5 L1066 615.5" stroke="#231f20" stroke-width="1.1" fill="none" />
<path d="M1057.5 615.5 L1057.5 623.4" stroke="#231f20" stroke-width="1" fill="none" />
<circle cx="1057.7" cy="623.4" r="1.9" fill="#231f20"/>
<path d="M1055.4 615.5 L1049.4 602.1" stroke="#231f20" stroke-width="1" fill="none" />
<path d="M1049.2 601.8 L1054.6 605.2 L1050.6 608.2 Z" fill="#231f20"/>
<path d="M1061.3 615.5 L1068.7 602.3" stroke="#231f20" stroke-width="1" fill="none" />
<path d="M1057.7 623.4 L1055 626 L1060.6 628.6 L1055 631.2 L1060.6 633.8 L1055 636.4 L1060.6 639 L1057.7 641.3 L1057.7 677.5" stroke="#231f20" stroke-width="1" fill="none" />
<path d="M1057.7 677.5 L1061.9 678.946 L1053.5 681.838 L1061.9 684.731 L1053.5 687.623 L1061.9 690.515 L1053.5 693.408 L1057.7 696.3" stroke="#231f20" stroke-width="1.1" fill="none" />
<circle cx="1057.7" cy="730.4" r="1.95" fill="#231f20"/>
<circle cx="1003.5" cy="730.4" r="1.95" fill="#231f20"/>
<path d="M1003.5 730.5 L1022.5 730.5" stroke="#231f20" stroke-width="1.1" fill="none" />
<path d="M1022.5 730.4 L1023.95 726.2 L1026.84 734.6 L1029.73 726.2 L1032.62 734.6 L1035.52 726.2 L1038.41 734.6 L1041.3 730.4" stroke="#231f20" stroke-width="1.1" fill="none" />
<path d="M1041.3 730.5 L1057.7 730.5" stroke="#231f20" stroke-width="1.1" fill="none" />
<rect x="1053" y="757" width="9" height="5" fill="#fff"/>
<path d="M1051.5 758.2 L1063.8 756.4" stroke="#231f20" stroke-width="1" fill="none" />
<path d="M1051.5 761 L1063.8 759.2" stroke="#231f20" stroke-width="1" fill="none" />
<path d="M1051.5 763.6 L1063.8 761.8" stroke="#231f20" stroke-width="1" fill="none" />
<path d="M1060 766.5 L1065 766.5" stroke="#231f20" stroke-width="1" fill="none" />
<path d="M1062.5 763.8 L1062.5 768.8" stroke="#231f20" stroke-width="1" fill="none" />
<text transform="translate(1036.25 660) rotate(90)" font-family="Liberation Sans" font-size="13.2" font-weight="normal" fill="#231f20" stroke="#231f20" stroke-width="0.18" textLength="31.5" lengthAdjust="spacingAndGlyphs">Q516</text>
<text transform="translate(1022.75 637) rotate(90)" font-family="Liberation Sans" font-size="13.2" font-weight="normal" fill="#231f20" stroke="#231f20" stroke-width="0.18" textLength="77" lengthAdjust="spacingAndGlyphs">KRC102MTA</text>
<text transform="translate(1012.76 646) rotate(90)" font-family="Liberation Sans" font-size="9" font-weight="normal" fill="#231f20" stroke="#231f20" stroke-width="0.18" textLength="59.5" lengthAdjust="spacingAndGlyphs">SYNC SWITCH</text>
<text transform="translate(1071.54 676) rotate(90)" font-family="Liberation Sans" font-size="9.6" font-weight="normal" fill="#231f20" stroke="#231f20" stroke-width="0.18" textLength="20" lengthAdjust="spacingAndGlyphs">R589</text>
<text transform="translate(1062.74 679.5) rotate(90)" font-family="Liberation Sans" font-size="9.6" font-weight="normal" fill="#231f20" stroke="#231f20" stroke-width="0.18" textLength="14" lengthAdjust="spacingAndGlyphs">10K</text>
<text transform="translate(1032.54 739.5) rotate(90)" font-family="Liberation Sans" font-size="9.6" font-weight="normal" fill="#231f20" stroke="#231f20" stroke-width="0.18" textLength="20" lengthAdjust="spacingAndGlyphs">R578</text>
<text transform="translate(1024.04 743.8) rotate(90)" font-family="Liberation Sans" font-size="9.6" font-weight="normal" fill="#231f20" stroke="#231f20" stroke-width="0.18" textLength="14" lengthAdjust="spacingAndGlyphs">10K</text>
<text transform="translate(1075.34 750.8) rotate(90)" font-family="Liberation Sans" font-size="9.6" font-weight="normal" fill="#231f20" stroke="#231f20" stroke-width="0.18" textLength="20.2" lengthAdjust="spacingAndGlyphs">C555</text>
<text transform="translate(1066.24 747) rotate(90)" font-family="Liberation Sans" font-size="9.6" font-weight="normal" fill="#231f20" stroke="#231f20" stroke-width="0.18" textLength="27" lengthAdjust="spacingAndGlyphs">35V4.7</text>
<circle cx="355" cy="653.2" r="1.95" fill="#231f20"/>
<path d="M355 653.5 L405 653.5" stroke="#231f20" stroke-width="1.1" fill="none" />
<path d="M405.2 647.6 L415.5 653.2 L405.2 658.8 Z" fill="#fff" stroke="#231f20" stroke-width="1"/>
<path d="M415.5 647.6 L415.5 658.8" stroke="#231f20" stroke-width="1.1" fill="none" />
<circle cx="462.5" cy="653.2" r="1.95" fill="#231f20"/>
<path d="M462 653.2 L462 696 L450 696" stroke="#231f20" stroke-width="1.9" fill="none" />
<path d="M403.5 692 L403.5 687.5 L445.5 687.5 L445.5 692" stroke="#231f20" stroke-width="1.1" fill="none" />
<path d="M403.5 700.5 L403.5 735.5 L445.5 735.5 L445.5 700.5" stroke="#231f20" stroke-width="1.1" fill="none" />
<path d="M408.3 696.3 L412.5 696.3 q1.9 3.6 3.8 0 q1.9 3.6 3.8 0 q1.9 3.6 3.8 0 q1.9 3.6 3.8 0 q1.9 3.6 3.8 0 L441.3 696.3" stroke="#231f20" stroke-width="1" fill="none"/>
<circle cx="403.75" cy="696.3" r="4.4" fill="#fff" stroke="#231f20" stroke-width="0.9"/>
<text x="403.75" y="699.4" text-anchor="middle" font-family="Liberation Sans" font-size="8.6" fill="#231f20">4</text>
<circle cx="445.75" cy="696.3" r="4.4" fill="#fff" stroke="#231f20" stroke-width="0.9"/>
<text x="445.75" y="699.4" text-anchor="middle" font-family="Liberation Sans" font-size="8.6" fill="#231f20">3</text>
<circle cx="403.75" cy="723.6" r="4.4" fill="#fff" stroke="#231f20" stroke-width="0.9"/>
<text x="403.75" y="726.7" text-anchor="middle" font-family="Liberation Sans" font-size="8.6" fill="#231f20">2</text>
<circle cx="445.75" cy="723.6" r="4.4" fill="#fff" stroke="#231f20" stroke-width="0.9"/>
<text x="445.75" y="726.7" text-anchor="middle" font-family="Liberation Sans" font-size="8.6" fill="#231f20">1</text>
<circle cx="432.7" cy="723.4" r="2.1" fill="#fff" stroke="#231f20" stroke-width="0.9"/>
<path d="M408.3 723.5 L412 723.5" stroke="#231f20" stroke-width="1.1" fill="none" />
<rect x="412.4" y="721.8" width="3" height="3" fill="#fff" stroke="#231f20" stroke-width="0.8" transform="rotate(20 414 723)"/>
<path d="M413.5 730.5 L430.8 724.3" stroke="#231f20" stroke-width="1" fill="none" />
<path d="M434.8 723.5 L441.3 723.5" stroke="#231f20" stroke-width="1.1" fill="none" />
<path d="M323.5 723.5 L399.2 723.5" stroke="#231f20" stroke-width="1.1" fill="none" />
<circle cx="323.5" cy="723.6" r="1.95" fill="#231f20"/>
<circle cx="355.75" cy="723.6" r="1.95" fill="#231f20"/>
<circle cx="459.3" cy="723.6" r="1.95" fill="#231f20"/>
<path d="M355.5 723.6 L355.5 800.5 L459.5 800.5 L459.5 723.6" stroke="#231f20" stroke-width="1.1" fill="none" />
<rect x="351" y="762.5" width="9.5" height="4.5" fill="#fff"/>
<path d="M351 762.5 L360.5 762.5" stroke="#231f20" stroke-width="1.1" fill="none" />
<path d="M351 767.5 L360.5 767.5" stroke="#231f20" stroke-width="1.1" fill="none" />
<path d="M266.5 811 L266.5 656.5 L323.5 656.5 L323.5 880.5 L657.5 880.5 L657.5 817.5" stroke="#231f20" stroke-width="1.1" fill="none" />
<circle cx="243.5" cy="694.6" r="1.95" fill="#231f20"/>
<circle cx="266.7" cy="694.6" r="1.95" fill="#231f20"/>
<path d="M243.25 694.5 L248.5 694.5" stroke="#231f20" stroke-width="1.1" fill="none" />
<path d="M262.6 694.5 L266.5 694.5" stroke="#231f20" stroke-width="1.1" fill="none" />
<path d="M250.6 700.4 L248.5 700.4 L248.5 690 L262.6 700.4 L262.6 690.2 L259.6 690.2" stroke="#231f20" stroke-width="1.1" fill="none" />
<path d="M223.5 685.4 L237.7 693 L223.5 700.6" stroke="#231f20" stroke-width="1" fill="none"/>
<path d="M223.5 685.4 L223.5 700.6" stroke="#6b6869" stroke-width="0.9" fill="none" />
<circle cx="226.3" cy="693" r="1.05" fill="#231f20"/>
<path d="M227.4 692.65 L229.5 691.9 Q232.1 690.6 233.3 692.4 L233.3 693.6 Q232.1 695.4 229.5 694.1 L227.4 693.35 Z" fill="#231f20"/>
<text transform="translate(214.348 684) rotate(90)" font-family="Liberation Sans" font-size="8.2" font-weight="normal" fill="#231f20" stroke="#231f20" stroke-width="0.18" textLength="17.5" lengthAdjust="spacingAndGlyphs">Z501</text>
<text transform="translate(205.216 661.8) rotate(90)" font-family="Liberation Sans" font-size="9.4" font-weight="normal" fill="#231f20" stroke="#231f20" stroke-width="0.18" textLength="63.7" lengthAdjust="spacingAndGlyphs">ERZV10V511CS</text>
<rect x="263" y="742.9" width="7" height="14" fill="#fff"/>
<circle cx="266.4" cy="729.8" r="2.0" fill="#231f20"/>
<circle cx="266.4" cy="769.8" r="2.0" fill="#231f20"/>
<path d="M261.4 737.8 Q260.6 729.6 266.4 729.2 Q272.2 729.6 271.4 737.8" stroke="#231f20" stroke-width="1.2" fill="none"/>
<path d="M261.4 761.8 Q260.6 770 266.4 770.3 Q272.2 770 271.4 761.8" stroke="#231f20" stroke-width="1.2" fill="none"/>
<rect x="264.7" y="739.3" width="3.4" height="3.4" fill="#fff" stroke="#231f20" stroke-width="0.9"/>
<circle cx="266.2" cy="758.8" r="1.9" fill="#fff" stroke="#231f20" stroke-width="0.9"/>
<path d="M266.6 742.8 Q268.8 743.6 268.2 746 L264.2 753 Q263.6 755.6 265.4 757" stroke="#231f20" stroke-width="0.95" fill="none"/>
<text transform="translate(252.544 711) rotate(90)" font-family="Liberation Sans" font-size="9.6" font-weight="normal" fill="#231f20" stroke="#231f20" stroke-width="0.18" textLength="24.5" lengthAdjust="spacingAndGlyphs">FC502</text>
<text transform="translate(252.544 762) rotate(90)" font-family="Liberation Sans" font-size="9.6" font-weight="normal" fill="#231f20" stroke="#231f20" stroke-width="0.18" textLength="24.5" lengthAdjust="spacingAndGlyphs">FC501</text>
<text transform="translate(274.444 728.3) rotate(90)" font-family="Liberation Sans" font-size="9.6" font-weight="normal" fill="#231f20" stroke="#231f20" stroke-width="0.18" textLength="20" lengthAdjust="spacingAndGlyphs">250V</text>
<text transform="translate(274.444 753.5) rotate(90)" font-family="Liberation Sans" font-size="9.6" font-weight="normal" fill="#231f20" stroke="#231f20" stroke-width="0.18" textLength="17.4" lengthAdjust="spacingAndGlyphs">2.0A</text>
<text transform="translate(282.744 743.8) rotate(90)" font-family="Liberation Sans" font-size="9.6" font-weight="normal" fill="#231f20" stroke="#231f20" stroke-width="0.18" textLength="9.2" lengthAdjust="spacingAndGlyphs">F1</text>
<path d="M291.1 741.2 L305.3 748.8 L291.1 756.4" stroke="#231f20" stroke-width="1" fill="none"/>
<path d="M291.5 741.2 L291.5 756.4" stroke="#6b6869" stroke-width="0.9" fill="none" />
<circle cx="293.9" cy="748.8" r="1.05" fill="#231f20"/>
<path d="M295 748.45 L297.1 747.7 Q299.7 746.4 300.9 748.2 L300.9 749.4 Q299.7 751.2 297.1 749.9 L295 749.15 Z" fill="#231f20"/>
<text transform="translate(371.544 755.5) rotate(90)" font-family="Liberation Sans" font-size="9.6" font-weight="normal" fill="#231f20" stroke="#231f20" stroke-width="0.18" textLength="20" lengthAdjust="spacingAndGlyphs">C500</text>
<text transform="translate(362.544 753.8) rotate(90)" font-family="Liberation Sans" font-size="9.6" font-weight="normal" fill="#231f20" stroke="#231f20" stroke-width="0.18" textLength="23.7" lengthAdjust="spacingAndGlyphs">1000P</text>
<text transform="translate(416.044 750) rotate(90)" font-family="Liberation Sans" font-size="9.6" font-weight="normal" fill="#231f20" stroke="#231f20" stroke-width="0.18" textLength="29" lengthAdjust="spacingAndGlyphs">RLY501</text>
<text transform="translate(407.044 740.8) rotate(90)" font-family="Liberation Sans" font-size="9.6" font-weight="normal" fill="#231f20" stroke="#231f20" stroke-width="0.18" textLength="49.7" lengthAdjust="spacingAndGlyphs">RSY0040M-0</text>
<path d="M424.1 757.4 L438.3 765 L424.1 772.6" stroke="#231f20" stroke-width="1" fill="none"/>
<path d="M424.5 757.4 L424.5 772.6" stroke="#6b6869" stroke-width="0.9" fill="none" />
<circle cx="426.9" cy="765" r="1.05" fill="#231f20"/>
<path d="M428 764.65 L430.1 763.9 Q432.7 762.6 433.9 764.4 L433.9 765.6 Q432.7 767.4 430.1 766.1 L428 765.35 Z" fill="#231f20"/>
<text transform="translate(413.76 590.8) rotate(90)" font-family="Liberation Sans" font-size="9" font-weight="normal" fill="#231f20" stroke="#231f20" stroke-width="0.18" textLength="19.2" lengthAdjust="spacingAndGlyphs">D500</text>
<text transform="translate(404.544 569.5) rotate(90)" font-family="Liberation Sans" font-size="9.6" font-weight="normal" fill="#231f20" stroke="#231f20" stroke-width="0.18" textLength="61" lengthAdjust="spacingAndGlyphs">B0AACK000004</text>
<text transform="translate(407.844 661.5) rotate(90)" font-family="Liberation Sans" font-size="9.6" font-weight="normal" fill="#231f20" stroke="#231f20" stroke-width="0.18" textLength="20" lengthAdjust="spacingAndGlyphs">D500</text>
<rect x="237.5" y="814.5" width="35" height="28" fill="none" stroke="#231f20" stroke-width="1"/>
<path d="M243.5 817.5 L243.5 822" stroke="#231f20" stroke-width="1.1" fill="none" />
<path d="M243.5 835 L243.5 839.5" stroke="#231f20" stroke-width="1.1" fill="none" />
<path d="M266.5 817.5 L266.5 822" stroke="#231f20" stroke-width="1.1" fill="none" />
<path d="M266.5 835 L266.5 839.5" stroke="#231f20" stroke-width="1.1" fill="none" />
<path d="M243.25 822 q2.6 1.1 0 2.2 q2.6 1.1 0 2.2 q2.6 1.1 0 2.2 q2.6 1.1 0 2.2 q2.6 1.1 0 2.2 q2.6 1.1 0 2" stroke="#231f20" stroke-width="0.8" fill="none"/>
<path d="M266.5 822 q-2.6 1.1 0 2.2 q-2.6 1.1 0 2.2 q-2.6 1.1 0 2.2 q-2.6 1.1 0 2.2 q-2.6 1.1 0 2.2 q-2.6 1.1 0 2" stroke="#231f20" stroke-width="0.8" fill="none"/>
<path d="M250.5 817.5 L250.5 839.5" stroke="#231f20" stroke-width="1" fill="none" />
<path d="M259.5 817.5 L259.5 839.5" stroke="#231f20" stroke-width="1" fill="none" />
<circle cx="243.25" cy="814.3" r="3.1" fill="#fff" stroke="#231f20" stroke-width="0.9"/>
<circle cx="243.25" cy="842.5" r="3.1" fill="#fff" stroke="#231f20" stroke-width="0.9"/>
<circle cx="266.5" cy="814.3" r="3.1" fill="#fff" stroke="#231f20" stroke-width="0.9"/>
<circle cx="266.5" cy="842.5" r="3.1" fill="#fff" stroke="#231f20" stroke-width="0.9"/>
<path d="M243.5 845.5 L243.5 889.3" stroke="#231f20" stroke-width="1.1" fill="none" />
<path d="M266.5 845.5 L266.5 889.3" stroke="#231f20" stroke-width="1.1" fill="none" />
<text transform="translate(285.344 820.5) rotate(90)" font-family="Liberation Sans" font-size="9.6" font-weight="normal" fill="#231f20" stroke="#231f20" stroke-width="0.18" textLength="18.5" lengthAdjust="spacingAndGlyphs">L500</text>
<text transform="translate(277.044 811) rotate(90)" font-family="Liberation Sans" font-size="9.6" font-weight="normal" fill="#231f20" stroke="#231f20" stroke-width="0.18" textLength="36.5" lengthAdjust="spacingAndGlyphs">RLQZ371</text>
<path d="M294.2 821.6 L308.4 829.2 L294.2 836.8" stroke="#231f20" stroke-width="1" fill="none"/>
<path d="M294.5 821.6 L294.5 836.8" stroke="#6b6869" stroke-width="0.9" fill="none" />
<circle cx="297" cy="829.2" r="1.05" fill="#231f20"/>
<path d="M298.1 828.85 L300.2 828.1 Q302.8 826.8 304 828.6 L304 829.8 Q302.8 831.6 300.2 830.3 L298.1 829.55 Z" fill="#231f20"/>
<text transform="translate(277.844 867) rotate(90)" font-family="Liberation Sans" font-size="9.6" font-weight="normal" fill="#231f20" stroke="#231f20" stroke-width="0.18" textLength="23.5" lengthAdjust="spacingAndGlyphs">JK500</text>
<path d="M286.7 870.4 L300.9 878 L286.7 885.6" stroke="#231f20" stroke-width="1" fill="none"/>
<path d="M286.5 870.4 L286.5 885.6" stroke="#6b6869" stroke-width="0.9" fill="none" />
<circle cx="289.5" cy="878" r="1.05" fill="#231f20"/>
<path d="M290.6 877.65 L292.7 876.9 Q295.3 875.6 296.5 877.4 L296.5 878.6 Q295.3 880.4 292.7 879.1 L290.6 878.35 Z" fill="#231f20"/>
<rect x="236.5" y="889.5" width="37" height="16" fill="#fff" stroke="#231f20" stroke-width="1"/>
<rect x="236.5" y="913.5" width="37" height="16" fill="#fff" stroke="#231f20" stroke-width="1"/>
<path d="M243.5 889.3 L243.5 895" stroke="#231f20" stroke-width="1.1" fill="none" />
<path d="M238.45 901.8 L243.25 894.5 L248.05 901.8" stroke="#231f20" stroke-width="1" fill="none" />
<path d="M243.5 933.8 L243.5 917.5" stroke="#231f20" stroke-width="1.1" fill="none" />
<path d="M238.45 924.8 L243.25 916.5 L248.05 924.8" stroke="#231f20" stroke-width="1" fill="none" />
<path d="M266.5 889.3 L266.5 895" stroke="#231f20" stroke-width="1.1" fill="none" />
<path d="M261.7 901.8 L266.5 894.5 L271.3 901.8" stroke="#231f20" stroke-width="1" fill="none" />
<path d="M266.5 933.8 L266.5 917.5" stroke="#231f20" stroke-width="1.1" fill="none" />
<path d="M261.7 924.8 L266.5 916.5 L271.3 924.8" stroke="#231f20" stroke-width="1" fill="none" />
<path d="M243.25 933.5 L266.5 933.5" stroke="#231f20" stroke-width="1.1" fill="none" />
<path d="M252.5 933.8 L252.5 948" stroke="#231f20" stroke-width="1.1" fill="none" />
<path d="M256.5 933.8 L256.5 948" stroke="#231f20" stroke-width="1.1" fill="none" />
<path d="M245.8 965.2 L245.8 957 Q246 948.5 254.6 947.3 Q263.3 948.5 263.6 957 L263.6 965.2 Z" fill="#fff" stroke="#231f20" stroke-width="1"/>
<path d="M250.5 965.2 L250.5 976" stroke="#231f20" stroke-width="1.1" fill="none" />
<path d="M259.5 965.2 L259.5 976" stroke="#231f20" stroke-width="1.1" fill="none" />
<text transform="translate(204.544 930) rotate(90)" font-family="Liberation Sans" font-size="9.6" font-weight="normal" fill="#231f20" stroke="#231f20" stroke-width="0.18" textLength="21.5" lengthAdjust="spacingAndGlyphs">AC IN</text>
<text transform="translate(196.544 930.8) rotate(90)" font-family="Liberation Sans" font-size="9.6" font-weight="normal" fill="#231f20" stroke="#231f20" stroke-width="0.18" textLength="19.7" lengthAdjust="spacingAndGlyphs">220V</text>
<text transform="translate(187.344 928) rotate(90)" font-family="Liberation Sans" font-size="9.6" font-weight="normal" fill="#231f20" stroke="#231f20" stroke-width="0.18" textLength="25" lengthAdjust="spacingAndGlyphs">(50Hz)</text>
<path d="M214.3 931.6 L228.5 939.2 L214.3 946.8" stroke="#231f20" stroke-width="1" fill="none"/>
<path d="M214.5 931.6 L214.5 946.8" stroke="#6b6869" stroke-width="0.9" fill="none" />
<circle cx="217.1" cy="939.2" r="1.05" fill="#231f20"/>
<path d="M218.2 938.85 L220.3 938.1 Q222.9 936.8 224.1 938.6 L224.1 939.8 Q222.9 941.6 220.3 940.3 L218.2 939.55 Z" fill="#231f20"/>
<rect x="621.5" y="787.5" width="43" height="27" fill="none" stroke="#231f20" stroke-width="1"/>
<path d="M628 790.5 L628 793.2" stroke="#231f20" stroke-width="0.9" fill="none" />
<path d="M657 790.5 L657 793.2" stroke="#231f20" stroke-width="0.9" fill="none" />
<path d="M628 811.5 L628 808.2" stroke="#231f20" stroke-width="0.9" fill="none" />
<path d="M657 811.5 L657 808.2" stroke="#231f20" stroke-width="0.9" fill="none" />
<path d="M628 793.2 L631 793.2 q1.15 3.4 2.3 0 q1.15 3.4 2.3 0 q1.15 3.4 2.3 0 q1.15 3.4 2.3 0 q1.15 3.4 2.3 0 q1.15 3.4 2.3 0 q1.15 3.4 2.3 0 q1.15 3.4 2.3 0 q1.15 3.4 2.3 0 q1.15 3.4 2.3 0 L657 793.2" stroke="#231f20" stroke-width="0.85" fill="none"/>
<path d="M628 808.2 L631 808.2 q1.15 -3.4 2.3 0 q1.15 -3.4 2.3 0 q1.15 -3.4 2.3 0 q1.15 -3.4 2.3 0 q1.15 -3.4 2.3 0 q1.15 -3.4 2.3 0 q1.15 -3.4 2.3 0 q1.15 -3.4 2.3 0 q1.15 -3.4 2.3 0 q1.15 -3.4 2.3 0 L657 808.2" stroke="#231f20" stroke-width="0.85" fill="none"/>
<path d="M626.3 799.2 L658 799.2" stroke="#231f20" stroke-width="1" fill="none" />
<path d="M626.3 802.4 L658 802.4" stroke="#231f20" stroke-width="1" fill="none" />
<circle cx="628" cy="787.5" r="2.9" fill="#fff" stroke="#231f20" stroke-width="0.9"/>
<circle cx="643.75" cy="787.5" r="2.9" fill="#fff" stroke="#231f20" stroke-width="0.9"/>
<circle cx="657" cy="787.5" r="2.9" fill="#fff" stroke="#231f20" stroke-width="0.9"/>
<circle cx="628" cy="814.5" r="2.9" fill="#fff" stroke="#231f20" stroke-width="0.9"/>
<circle cx="657" cy="814.5" r="2.9" fill="#fff" stroke="#231f20" stroke-width="0.9"/>
<text transform="translate(676.044 789.3) rotate(90)" font-family="Liberation Sans" font-size="9.6" font-weight="normal" fill="#231f20" stroke="#231f20" stroke-width="0.18" textLength="18.7" lengthAdjust="spacingAndGlyphs">T502</text>
<text transform="translate(667.844 768.8) rotate(90)" font-family="Liberation Sans" font-size="9.6" font-weight="normal" fill="#231f20" stroke="#231f20" stroke-width="0.18" textLength="61.2" lengthAdjust="spacingAndGlyphs">G4C2AAJ00005</text>
<path d="M686.1 790.7 L700.3 798.3 L686.1 805.9" stroke="#231f20" stroke-width="1" fill="none"/>
<path d="M686.5 790.7 L686.5 805.9" stroke="#6b6869" stroke-width="0.9" fill="none" />
<circle cx="688.9" cy="798.3" r="1.05" fill="#231f20"/>
<path d="M690 797.95 L692.1 797.2 Q694.7 795.9 695.9 797.7 L695.9 798.9 Q694.7 800.7 692.1 799.4 L690 798.65 Z" fill="#231f20"/>
<path transform="translate(123.4 172.2) rotate(90) scale(0.182)" d="M50 3V14 M8 17H92 M38 17V46 M62 17V46 M22 28L10 46 M78 28L92 46 M18 56H78Q60 85 12 96 M30 62Q55 88 92 96" stroke="#231f20" stroke-width="7.96703" fill="none" stroke-linecap="butt" stroke-linejoin="miter"/>
<path transform="translate(123.4 190.8) rotate(90) scale(0.182)" d="M12 10H94 M12 10V60Q12 85 4 96 M28 42H86 M56 20V88 M22 88H94 M68 60L80 74" stroke="#231f20" stroke-width="7.96703" fill="none" stroke-linecap="butt" stroke-linejoin="miter"/>
<path transform="translate(123.4 209.4) rotate(90) scale(0.182)" d="M12 5H40V28H12Z M60 5H88V28H60Z M12 70H40V95H12Z M60 70H88V95H60Z M5 48H95 M50 32V48L12 68 M50 48L90 68 M68 33L76 42" stroke="#231f20" stroke-width="7.96703" fill="none" stroke-linecap="butt" stroke-linejoin="miter"/>
<path transform="translate(123.4 228) rotate(90) scale(0.182)" d="M14 22H86V66H14Z M14 44H86 M50 4V80Q50 94 62 94H86Q94 94 94 78" stroke="#231f20" stroke-width="7.96703" fill="none" stroke-linecap="butt" stroke-linejoin="miter"/>
<path transform="translate(123.4 246.6) rotate(90) scale(0.182)" d="M10 15H40V40H10Z M26 40V84 M26 60H42 M11 55V85 M4 90L46 80 M64 6L50 36 M60 18H86L54 56 M62 26L94 56 M56 62H88V92H56Z" stroke="#231f20" stroke-width="7.96703" fill="none" stroke-linecap="butt" stroke-linejoin="miter"/>
<path transform="translate(131.4 583.8) rotate(90) scale(0.182)" d="M14 22H86V66H14Z M14 44H86 M50 4V80Q50 94 62 94H86Q94 94 94 78" stroke="#231f20" stroke-width="7.96703" fill="none" stroke-linecap="butt" stroke-linejoin="miter"/>
<path transform="translate(131.4 602.4) rotate(90) scale(0.182)" d="M8 10L18 22 M4 38L15 48 M4 92L20 64 M30 10H96 M30 10V60Q30 85 22 96 M62 12L56 25 M42 25H86V58H42Z M42 41H86 M64 58V86Q64 94 56 92 M48 70L38 88 M78 70L92 88" stroke="#231f20" stroke-width="7.96703" fill="none" stroke-linecap="butt" stroke-linejoin="miter"/>
<path transform="translate(131.4 621) rotate(90) scale(0.182)" d="M14 22H86V66H14Z M14 44H86 M50 4V80Q50 94 62 94H86Q94 94 94 78" stroke="#231f20" stroke-width="7.96703" fill="none" stroke-linecap="butt" stroke-linejoin="miter"/>
<path transform="translate(131.4 639.6) rotate(90) scale(0.182)" d="M10 15H40V40H10Z M26 40V84 M26 60H42 M11 55V85 M4 90L46 80 M64 6L50 36 M60 18H86L54 56 M62 26L94 56 M56 62H88V92H56Z" stroke="#231f20" stroke-width="7.96703" fill="none" stroke-linecap="butt" stroke-linejoin="miter"/>
<path transform="translate(315.5 20.3) rotate(90) scale(0.11)" d="M4 28H36 M20 4V85Q20 93 11 90 M4 64L36 48 M66 3V14 M44 17H92 M55 24L60 38 M80 24L75 38 M40 42H96 M62 45L50 74L88 96 M82 55Q75 80 46 96 M40 62H96" stroke="#231f20" stroke-width="9.81818" fill="none" stroke-linecap="butt" stroke-linejoin="miter"/>
<path transform="translate(315.5 31.5) rotate(90) scale(0.11)" d="M4 20H46 M25 20V70 M4 80L48 66 M50 30H90V80Q90 93 77 90 M70 4Q70 60 44 96" stroke="#231f20" stroke-width="9.81818" fill="none" stroke-linecap="butt" stroke-linejoin="miter"/>
<path transform="translate(315.5 42.7) rotate(90) scale(0.11)" d="M25 4V15 M4 20H48 M22 20Q22 70 4 93 M22 46H42V85Q42 93 33 90 M65 4L52 42 M60 22H96 M82 22Q75 70 48 96 M58 36Q70 75 96 96" stroke="#231f20" stroke-width="9.81818" fill="none" stroke-linecap="butt" stroke-linejoin="miter"/>
<path transform="translate(315.5 53.9) rotate(90) scale(0.11)" d="M14 22H86V66H14Z M14 44H86 M50 4V80Q50 94 62 94H86Q94 94 94 78" stroke="#231f20" stroke-width="9.81818" fill="none" stroke-linecap="butt" stroke-linejoin="miter"/>
<path transform="translate(315.5 65.1) rotate(90) scale(0.11)" d="M10 15H40V40H10Z M26 40V84 M26 60H42 M11 55V85 M4 90L46 80 M64 6L50 36 M60 18H86L54 56 M62 26L94 56 M56 62H88V92H56Z" stroke="#231f20" stroke-width="9.81818" fill="none" stroke-linecap="butt" stroke-linejoin="miter"/>
<path transform="translate(951.3 340.3) rotate(90) scale(0.11)" d="M4 28H36 M20 4V85Q20 93 11 90 M4 64L36 48 M66 3V14 M44 17H92 M55 24L60 38 M80 24L75 38 M40 42H96 M62 45L50 74L88 96 M82 55Q75 80 46 96 M40 62H96" stroke="#231f20" stroke-width="9.81818" fill="none" stroke-linecap="butt" stroke-linejoin="miter"/>
<path transform="translate(951.3 351.5) rotate(90) scale(0.11)" d="M4 20H46 M25 20V70 M4 80L48 66 M50 30H90V80Q90 93 77 90 M70 4Q70 60 44 96" stroke="#231f20" stroke-width="9.81818" fill="none" stroke-linecap="butt" stroke-linejoin="miter"/>
<path transform="translate(951.3 362.7) rotate(90) scale(0.11)" d="M25 4V15 M4 20H48 M22 20Q22 70 4 93 M22 46H42V85Q42 93 33 90 M65 4L52 42 M60 22H96 M82 22Q75 70 48 96 M58 36Q70 75 96 96" stroke="#231f20" stroke-width="9.81818" fill="none" stroke-linecap="butt" stroke-linejoin="miter"/>
<path transform="translate(951.3 373.9) rotate(90) scale(0.11)" d="M14 22H86V66H14Z M14 44H86 M50 4V80Q50 94 62 94H86Q94 94 94 78" stroke="#231f20" stroke-width="9.81818" fill="none" stroke-linecap="butt" stroke-linejoin="miter"/>
<path transform="translate(951.3 385.1) rotate(90) scale(0.11)" d="M10 15H40V40H10Z M26 40V84 M26 60H42 M11 55V85 M4 90L46 80 M64 6L50 36 M60 18H86L54 56 M62 26L94 56 M56 62H88V92H56Z" stroke="#231f20" stroke-width="9.81818" fill="none" stroke-linecap="butt" stroke-linejoin="miter"/>
<path transform="translate(1249.5 523.2) rotate(90) scale(0.106)" d="M28 4L8 46 M20 30V96 M60 4L66 14 M38 20H96 M45 36H88 M45 50H88 M45 65H88V92H45Z" stroke="#231f20" stroke-width="9.43396" fill="none" stroke-linecap="butt" stroke-linejoin="miter"/>
<path transform="translate(1249.5 534.3) rotate(90) scale(0.106)" d="M25 8H75V35H25Z M8 48H92 M30 48L25 65H78V85Q78 96 64 92" stroke="#231f20" stroke-width="9.43396" fill="none" stroke-linecap="butt" stroke-linejoin="miter"/>
<path transform="translate(1249.5 545.4) rotate(90) scale(0.106)" d="M28 4L10 30L30 30L8 60L36 55 M4 86L38 72 M45 30H90 M42 52H94 M62 4Q65 60 94 93 M88 62L55 96 M78 8L86 18" stroke="#231f20" stroke-width="9.43396" fill="none" stroke-linecap="butt" stroke-linejoin="miter"/>
<path transform="translate(1265.6 521) rotate(90) scale(0.106)" d="M28 4L8 46 M20 30V96 M60 4L66 14 M38 20H96 M45 36H88 M45 50H88 M45 65H88V92H45Z" stroke="#231f20" stroke-width="9.43396" fill="none" stroke-linecap="butt" stroke-linejoin="miter"/>
<path transform="translate(1265.6 532) rotate(90) scale(0.106)" d="M25 8H75V35H25Z M8 48H92 M30 48L25 65H78V85Q78 96 64 92" stroke="#231f20" stroke-width="9.43396" fill="none" stroke-linecap="butt" stroke-linejoin="miter"/>
<path transform="translate(1265.6 543) rotate(90) scale(0.106)" d="M28 4L10 30L30 30L8 60L36 55 M4 86L38 72 M45 30H90 M42 52H94 M62 4Q65 60 94 93 M88 62L55 96 M78 8L86 18" stroke="#231f20" stroke-width="9.43396" fill="none" stroke-linecap="butt" stroke-linejoin="miter"/>
<path d="M484.6 40.0 C484.3 40.9 483.4 43.6 482.8 45.4 C482.2 47.2 481.4 49.8 481.1 50.7 M482.2 46.9 C483.2 46.6 486.3 46.0 488.2 45.4 C490.2 44.8 493.1 43.7 494.1 43.4 M513.7 43.7 C512.7 43.6 509.6 42.6 507.6 43.1 C505.6 43.6 502.9 45.3 501.8 46.6 C500.7 47.9 499.9 50.2 500.9 50.9 C501.9 51.7 505.7 51.9 507.6 51.2 C509.6 50.6 511.5 48.4 512.6 47.2 C513.6 45.9 513.8 42.9 513.7 44.0 C513.7 45.0 512.5 52.0 512.3 53.6 M536.3 39.3 C536.4 40.0 535.4 42.9 536.8 43.7 C538.1 44.4 543.1 43.9 544.3 44.0 M545.1 36.7 C545.0 37.9 545.0 41.8 544.9 44.0 C544.9 46.1 546.4 48.6 544.6 49.5 C542.8 50.3 535.9 49.1 534.1 49.1 M563.3 40.3 C562.3 40.5 558.9 40.5 557.5 41.3 C556.1 42.2 555.1 44.0 554.8 45.4 C554.6 46.9 554.6 49.3 556.0 50.1 C557.4 50.8 561.1 50.4 563.3 49.8 C565.5 49.1 566.8 47.7 569.1 46.1 C571.4 44.6 575.2 41.5 577.1 40.3 C579.1 39.1 580.4 39.0 581.1 38.7 M581.1 38.7 C580.7 39.7 578.1 44.4 579.0 44.8 C580.0 45.3 584.7 42.7 586.6 41.3 C588.5 39.9 589.8 37.2 590.4 36.4 M587.5 39.6 L587.3 46.3 M593.2 44.0 C594.1 43.8 597.6 44.1 599.0 43.2 C600.5 42.4 600.7 39.7 601.9 38.8 C603.1 38.0 605.4 36.8 606.3 38.1 C607.1 39.5 606.9 45.4 607.0 46.9 M621.6 39.6 C620.9 39.9 618.0 40.5 617.2 41.8 C616.5 43.0 616.0 46.0 617.2 46.9 C618.4 47.8 622.6 47.9 624.5 47.2 C626.5 46.4 628.5 43.9 628.9 42.5 C629.3 41.1 627.9 39.3 626.7 38.8 C625.5 38.4 622.5 39.5 621.6 39.6 M636.2 35.9 L636.2 44.0 M650.0 35.9 C648.9 36.4 645.5 37.8 643.5 38.8 C641.4 39.9 637.4 41.3 637.6 42.5 C637.9 43.7 642.9 45.0 644.9 46.1 C647.0 47.2 649.2 48.6 650.0 49.1" stroke="#000" stroke-width="3.1" fill="none" stroke-linecap="round" stroke-linejoin="round"/>
<path d="M645.7 37.0 C646.2 36.7 648.6 35.3 649.0 35.5 C649.4 35.6 648.0 37.4 647.8 37.8" stroke="#000" stroke-width="3.8" fill="none" stroke-linecap="round" stroke-linejoin="round"/>
<path d="M468.0 56.0 C466.5 56.5 463.8 57.1 458.8 59.0 C453.7 60.9 443.5 65.1 437.5 67.5 C431.5 69.9 425.4 72.5 423.0 73.5 M430.5 64.0 C429.6 64.9 426.4 67.9 425.0 69.5 C423.6 71.1 421.6 72.8 422.0 73.5 C422.4 74.2 425.5 73.9 427.5 74.0 C429.5 74.1 432.9 74.2 434.0 74.2" stroke="#000" stroke-width="3.2" fill="none" stroke-linecap="round" stroke-linejoin="round"/>
<path d="M473.0 212.6 C474.5 212.3 478.7 211.1 481.6 210.8 C484.6 210.4 489.4 210.4 491.0 210.3 M480.2 211.5 C480.2 212.9 480.2 217.4 480.2 220.1 C480.3 222.8 480.5 226.3 480.5 227.5 M495.7 210.3 C495.8 213.4 495.9 222.6 496.0 228.7 C496.1 234.7 496.2 243.6 496.3 246.6 M500.3 211.5 C501.3 212.0 505.1 212.7 506.0 214.3 C506.9 216.0 506.7 220.1 505.8 221.5 C504.8 222.9 501.2 222.5 500.3 222.7 M515.8 214.1 C517.0 213.7 522.1 211.4 523.3 212.2 C524.4 213.0 523.7 217.6 522.5 218.7 C521.3 219.7 517.2 219.1 516.1 218.4 C515.0 217.6 515.8 214.8 515.8 214.1 M523.3 212.2 C523.0 213.5 522.4 218.0 521.8 220.1 C521.2 222.2 520.0 223.9 519.7 224.7 M528.7 215.5 L528.7 220.4 M529.0 218.7 C530.3 218.6 534.3 218.5 536.9 218.4 C539.5 218.2 543.5 218.0 544.8 217.9 M544.5 212.6 C544.3 213.5 543.7 216.2 543.3 217.9 C543.0 219.7 542.4 222.1 542.2 223.0 M557.7 213.6 C556.7 214.2 553.0 215.4 552.0 217.2 C550.9 219.0 550.8 222.7 551.2 224.4 C551.7 226.1 553.6 227.0 554.8 227.3 C556.0 227.5 557.8 226.1 558.4 225.8 M574.9 219.8 C574.7 220.3 574.4 221.9 573.7 222.7 C573.0 223.4 571.7 224.1 570.5 224.4 C569.4 224.7 567.8 224.7 566.6 224.4 C565.5 224.1 564.2 223.4 563.5 222.7 C562.8 221.9 562.3 220.8 562.3 219.8 C562.3 218.8 562.8 217.7 563.5 216.9 C564.2 216.2 565.5 215.5 566.6 215.2 C567.8 214.9 569.4 214.9 570.5 215.2 C571.7 215.5 573.0 216.2 573.7 216.9 C574.4 217.7 574.7 219.3 574.9 219.8 M572.3 219.8 C572.1 220.1 571.9 221.2 571.2 221.6 C570.6 222.1 569.5 222.4 568.6 222.4 C567.7 222.4 566.6 222.1 566.0 221.6 C565.3 221.2 564.9 220.4 564.9 219.8 C564.9 219.2 565.3 218.4 566.0 218.0 C566.6 217.5 567.7 217.2 568.6 217.2 C569.5 217.2 570.6 217.5 571.2 218.0 C571.9 218.4 572.1 219.5 572.3 219.8 M568.5 214.3 L568.5 230.8 M487.1 256.7 C488.1 256.8 491.2 257.5 493.1 257.4 C495.0 257.3 497.9 255.8 498.6 256.2 C499.3 256.7 497.8 258.8 497.4 260.3 C497.0 261.8 495.6 264.3 496.3 265.3 C497.0 266.2 500.0 266.0 501.7 266.0 C503.5 266.0 505.9 265.4 506.8 265.3 M513.9 253.8 C514.1 254.9 513.3 259.1 514.6 260.3 C516.0 261.5 520.6 260.9 521.8 261.0 M522.5 250.9 C522.7 252.0 523.3 255.2 523.3 257.4 C523.3 259.5 523.9 262.6 522.5 263.8 C521.2 265.0 516.6 264.4 515.4 264.6 M543.4 256.0 C543.4 256.5 543.7 258.0 543.3 258.9 C542.9 259.7 542.0 260.6 541.1 261.1 C540.1 261.7 538.7 262.0 537.5 262.0 C536.3 262.0 534.9 261.6 534.0 261.1 C533.0 260.5 532.2 259.6 531.8 258.7 C531.5 257.9 531.5 256.8 531.9 255.9 C532.3 255.1 533.2 254.2 534.1 253.6 C535.1 253.1 536.5 252.8 537.7 252.8 C538.9 252.8 540.3 253.2 541.2 253.7 C542.2 254.3 543.0 255.6 543.4 256.0 M543.6 256.7 C543.8 254.4 545.3 246.6 544.5 243.0 C543.7 239.5 541.1 236.2 539.0 235.2 C537.0 234.1 533.3 236.7 532.2 237.0 M548.8 264.8 C549.5 263.9 551.7 260.8 553.1 259.1 C554.5 257.4 556.4 254.6 557.1 254.8 C557.9 255.0 557.5 258.3 557.7 260.3 C557.9 262.2 558.3 265.6 558.4 266.7 M558.4 250.5 C559.6 250.4 563.2 249.8 565.6 249.9 C568.0 250.0 571.6 250.9 572.8 251.1 M568.0 256.0 L568.9 263.8 M483.4 289.7 L483.5 301.9 M483.5 296.4 L493.1 295.8 M493.4 291.8 L493.8 301.9 M519.0 286.8 C517.5 287.3 512.7 288.4 510.3 289.7 C508.0 291.0 505.1 293.3 504.6 294.7 C504.1 296.1 505.8 298.2 507.5 298.3 C509.1 298.4 512.7 297.2 514.6 295.4 C516.6 293.6 518.7 287.9 519.0 287.5 C519.2 287.2 516.9 291.3 516.1 293.3 C515.2 295.2 514.3 298.0 513.9 299.0 M525.4 295.4 C525.5 294.3 525.0 290.3 525.8 289.0 C526.7 287.6 529.2 287.4 530.4 287.5 C531.7 287.6 532.8 287.9 533.3 289.7 C533.8 291.5 533.5 296.8 533.6 298.3 M541.9 286.1 C541.4 288.5 540.1 294.6 539.0 300.4 C538.0 306.3 536.0 317.8 535.5 321.2 M542.6 288.2 C543.7 288.8 548.2 290.5 549.1 291.8 C549.9 293.1 548.7 295.2 547.6 296.1 C546.6 297.1 543.5 297.3 542.6 297.6 M553.7 291.8 C554.1 293.3 554.7 299.2 556.3 300.4 C557.8 301.6 561.6 299.2 562.7 299.0 M564.1 291.8 C563.9 293.3 563.2 298.2 562.7 300.4 C562.2 302.7 562.4 304.9 561.3 305.5 C560.2 306.0 557.1 304.3 556.3 304.0 M567.7 293.3 C568.7 293.1 572.8 291.3 573.5 292.5 C574.2 293.7 571.3 299.0 572.0 300.4 C572.8 301.9 576.8 301.0 577.8 301.1 M587.8 290.4 C586.9 290.9 583.4 291.8 582.1 293.3 C580.8 294.7 579.7 297.6 579.9 299.0 C580.2 300.4 582.2 302.1 583.5 301.9 C584.8 301.6 587.1 299.5 587.8 297.6 C588.5 295.6 587.8 291.6 587.8 290.4 M587.8 290.1 L589.0 304.0 M493.1 323.4 C495.0 323.1 502.5 322.8 504.6 322.0 C506.8 321.1 506.8 319.1 506.0 318.4 C505.3 317.6 502.2 317.3 500.3 317.6 C498.4 318.0 495.9 319.3 494.6 320.5 C493.2 321.7 492.2 323.4 492.4 324.8 C492.6 326.3 493.5 328.3 496.0 329.1 C498.5 330.0 505.6 329.7 507.5 329.8 M527.6 319.1 C526.5 319.4 522.4 320.0 521.1 321.2 C519.8 322.4 519.3 324.9 519.7 326.3 C520.0 327.6 521.0 328.5 523.3 329.1 C525.5 329.7 531.6 329.7 533.3 329.8 M533.3 316.9 C535.0 316.8 540.1 316.0 543.3 315.9 C546.6 315.9 551.1 316.4 552.7 316.5 M544.8 316.9 C544.9 318.2 545.3 322.3 545.5 324.8 C545.7 327.3 546.1 330.8 546.2 332.0 M562.7 314.8 L563.1 327.0 M563.1 320.5 C564.1 320.8 568.2 320.8 569.2 322.0 C570.1 323.1 570.6 326.9 568.9 327.7 C567.2 328.5 560.8 327.1 559.1 327.0 M471.9 227.0 C470.9 228.5 469.3 231.5 465.9 235.9 C462.5 240.2 456.1 247.8 451.5 253.1 C447.0 258.3 440.8 265.0 438.6 267.4 M442.6 254.5 C442.2 255.7 441.0 259.5 440.0 261.7 C439.1 263.9 437.4 266.7 436.9 267.7 M436.9 270.0 C438.4 269.6 442.7 268.2 445.8 267.4 C448.8 266.6 453.6 265.6 455.1 265.3" stroke="#000" stroke-width="3.1" fill="none" stroke-linecap="round" stroke-linejoin="round"/>
<path d="M437.2 267.4 C437.8 267.1 440.5 264.8 440.8 265.3 C441.0 265.7 439.2 269.2 438.9 270.0" stroke="#000" stroke-width="4.2" fill="none" stroke-linecap="round" stroke-linejoin="round"/>
<path d="M1049.2 300.2 C1048.4 300.5 1044.8 301.3 1044.1 302.2 C1043.3 303.2 1044.1 304.8 1045.0 305.8 C1045.9 306.9 1048.8 307.3 1049.2 308.5 C1049.7 309.8 1049.2 312.3 1047.7 313.2 C1046.2 314.2 1041.5 314.2 1040.3 314.3 M1064.2 303.8 C1063.1 304.5 1059.3 305.9 1057.9 307.7 C1056.5 309.6 1055.0 313.8 1055.5 314.8 C1056.1 315.9 1059.3 315.2 1061.0 314.0 C1062.7 312.8 1064.8 309.8 1065.8 307.7 C1066.7 305.6 1066.4 302.5 1066.5 301.4 M1066.5 301.4 C1066.1 299.6 1065.4 293.6 1064.2 290.4 C1063.0 287.3 1061.7 284.7 1059.5 282.6 C1057.2 280.5 1052.3 278.6 1050.8 277.9 M1072.0 309.3 C1073.9 308.9 1081.1 308.1 1083.1 306.9 C1085.0 305.8 1084.6 303.3 1083.8 302.2 C1083.1 301.2 1080.2 300.4 1078.3 300.7 C1076.5 300.9 1074.1 302.2 1072.8 303.8 C1071.5 305.4 1070.1 308.3 1070.5 310.1 C1070.9 311.9 1072.6 314.0 1075.2 314.8 C1077.8 315.6 1084.4 314.8 1086.2 314.8 M1108.2 299.9 C1106.4 300.1 1100.0 300.1 1097.2 301.4 C1094.4 302.8 1092.0 305.6 1091.7 307.7 C1091.4 309.8 1093.4 313.0 1095.6 314.0 C1097.9 315.1 1102.4 314.5 1105.1 314.0 C1107.7 313.5 1110.3 311.4 1111.4 310.9 M1116.1 300.7 L1116.4 311.7 M1116.4 306.9 C1117.9 306.7 1123.9 304.9 1125.5 305.4 C1127.2 305.9 1127.8 309.0 1126.3 310.1 C1124.8 311.2 1118.0 311.8 1116.4 312.1 M1079.9 362.8 C1077.9 362.9 1070.3 362.6 1068.1 363.6 C1065.9 364.5 1065.4 368.0 1066.5 368.7 C1067.7 369.5 1073.4 367.3 1075.2 368.3 C1076.9 369.2 1077.9 373.0 1077.1 374.6 C1076.3 376.1 1072.8 377.8 1070.5 377.7 C1068.1 377.6 1064.2 374.4 1062.9 373.8 M1087.8 370.6 C1090.1 370.1 1097.1 368.1 1101.9 367.5 C1106.8 366.8 1114.4 366.8 1116.9 366.7 M1095.6 364.3 C1094.3 365.4 1087.8 369.2 1087.8 370.6 C1087.8 372.1 1094.3 372.6 1095.6 373.0 M1108.2 361.2 C1109.6 362.0 1116.6 364.5 1116.9 366.2 C1117.1 367.9 1111.0 370.6 1109.8 371.4 M1128.6 359.6 C1130.0 359.2 1134.4 356.9 1136.5 357.3 C1138.6 357.7 1141.2 360.1 1141.2 362.0 C1141.2 363.8 1138.7 366.2 1136.5 368.3 C1134.3 370.4 1129.2 373.0 1127.9 374.6 C1126.6 376.1 1125.6 377.2 1128.6 377.7 C1131.7 378.2 1143.1 377.7 1145.9 377.7 M1038.2 340.0 C1036.3 342.2 1031.2 347.4 1026.4 353.3 C1021.7 359.2 1012.7 371.7 1009.9 375.3 M1006.8 356.5 C1006.7 358.1 1006.1 362.7 1006.3 365.9 C1006.6 369.1 1008.0 374.0 1008.4 375.7 M1008.4 375.7 C1010.6 375.3 1017.7 375.0 1021.7 373.8 C1025.8 372.5 1030.9 369.2 1032.7 368.3" stroke="#000" stroke-width="3.1" fill="none" stroke-linecap="round" stroke-linejoin="round"/>
<path d="M1057.9 329.0 C1059.5 328.9 1066.3 327.7 1067.3 328.5 C1068.4 329.3 1063.9 332.2 1064.2 333.7 C1064.4 335.2 1068.9 336.4 1068.9 337.6 C1068.9 338.8 1066.1 340.5 1064.2 341.1 C1062.2 341.6 1058.3 340.8 1057.1 340.8 M1084.2 334.7 C1084.3 335.1 1085.0 336.2 1084.9 336.9 C1084.9 337.7 1084.6 338.5 1084.1 339.1 C1083.5 339.7 1082.7 340.2 1081.9 340.4 C1081.1 340.7 1080.0 340.6 1079.3 340.4 C1078.5 340.1 1077.7 339.6 1077.2 339.0 C1076.7 338.3 1076.4 337.5 1076.4 336.7 C1076.5 336.0 1076.8 335.1 1077.3 334.5 C1077.8 333.9 1078.7 333.4 1079.5 333.2 C1080.3 333.0 1081.3 333.0 1082.1 333.3 C1082.9 333.5 1083.8 334.5 1084.2 334.7 M1086.2 332.1 L1087.0 341.5 M1095.6 342.3 C1095.9 340.4 1095.6 331.1 1097.2 330.5 C1098.8 330.0 1102.6 339.2 1105.1 339.2 C1107.6 339.2 1110.6 330.1 1112.1 330.5 C1113.7 330.9 1114.1 339.7 1114.5 341.5 M1121.6 329.7 L1122.0 342.3 M1130.2 329.7 C1129.0 330.8 1122.9 334.1 1123.1 336.0 C1123.4 338.0 1130.4 340.6 1131.8 341.5 M1135.7 330.5 L1136.0 342.3 M1136.0 336.8 L1145.9 336.4 M1146.3 329.0 L1146.7 343.9 M1155.4 330.5 C1155.5 331.5 1154.7 335.1 1156.2 336.0 C1157.6 337.0 1162.7 336.0 1164.0 336.0 M1164.8 328.2 C1164.8 330.0 1165.8 337.2 1164.5 339.2 C1163.2 341.1 1158.2 339.8 1156.9 340.0 M1171.9 339.2 C1172.8 336.6 1175.8 324.1 1177.1 323.5 C1178.4 322.8 1178.0 333.4 1179.7 335.3 C1181.5 337.1 1186.3 334.6 1187.6 334.5" stroke="#000" stroke-width="3.9" fill="none" stroke-linecap="round" stroke-linejoin="round"/>
<path d="M1068.8 392.9 C1071.1 392.9 1080.5 391.6 1082.9 392.9 C1085.3 394.1 1085.5 399.1 1083.5 400.4 C1081.4 401.6 1072.8 400.4 1070.7 400.4 M1083.5 400.4 C1083.5 401.8 1085.9 407.4 1083.5 408.8 C1081.0 410.2 1071.2 408.8 1068.8 408.8 M1090.4 401.3 C1093.1 401.2 1101.1 400.8 1106.4 400.4 C1111.7 399.9 1119.7 398.8 1122.4 398.5 M1097.0 396.6 C1095.8 397.5 1089.7 400.1 1089.8 401.7 C1090.0 403.3 1096.6 405.3 1097.9 406.0 M1114.8 393.8 C1116.2 394.6 1122.8 396.9 1122.9 398.5 C1123.1 400.1 1117.0 402.4 1115.8 403.2 M1144.0 392.9 C1141.9 393.0 1133.9 391.3 1131.8 393.8 C1129.6 396.3 1129.3 405.5 1131.2 407.9 C1133.1 410.3 1141.0 409.2 1143.0 408.5 C1145.1 407.7 1144.7 404.1 1143.6 403.2 C1142.5 402.3 1137.7 403.2 1136.5 403.2 M1147.7 409.8 C1147.7 407.0 1146.0 392.9 1147.7 392.9 C1149.5 392.9 1156.0 409.8 1158.1 409.8 C1160.1 409.8 1159.6 395.7 1160.0 392.9 M1169.4 393.8 L1169.4 411.7 M1169.4 393.8 C1170.8 394.7 1176.7 396.9 1177.8 399.4 C1179.0 401.9 1177.7 406.8 1176.3 408.8 C1175.0 410.9 1170.8 411.2 1169.7 411.7 M1198.5 388.5 C1196.9 390.4 1191.0 395.7 1189.1 399.4 C1187.2 403.1 1186.6 407.1 1187.2 410.7 C1187.8 414.3 1191.9 419.3 1192.9 421.1 M1272.7 392.9 C1273.7 394.6 1277.4 400.1 1278.4 403.2 C1279.3 406.3 1279.5 408.4 1278.4 411.7 C1277.3 414.9 1272.9 421.1 1271.8 422.9" stroke="#000" stroke-width="3.1" fill="none" stroke-linecap="round" stroke-linejoin="round"/>
<path d="M1196.2 406.0 L1196.6 416.4 M1196.6 411.7 L1203.2 411.7 M1203.2 405.1 L1203.8 416.4 M1206.0 408.8 L1213.5 408.8 M1206.0 412.6 L1213.5 412.6 M1215.4 393.8 L1227.6 394.7 M1217.3 394.7 L1216.4 412.6 M1216.4 403.2 C1217.8 403.5 1223.2 403.5 1224.8 405.1 C1226.4 406.6 1227.2 411.2 1225.8 412.6 C1224.3 414.0 1217.9 413.4 1216.4 413.5 M1231.4 406.0 C1231.5 407.6 1230.9 413.9 1232.0 415.4 C1233.1 416.9 1237.0 415.8 1238.0 414.8 C1239.0 413.9 1239.0 410.6 1238.0 409.8 C1237.0 408.9 1233.0 409.8 1232.0 409.8 M1242.7 406.0 L1243.2 415.4 M1250.2 415.4 C1250.8 413.7 1252.7 405.1 1253.9 405.1 C1255.2 405.1 1257.1 413.7 1257.7 415.4 M1269.4 411.7 C1269.3 412.0 1269.1 413.3 1268.8 413.9 C1268.4 414.5 1267.7 415.0 1267.2 415.2 C1266.6 415.5 1265.8 415.5 1265.2 415.2 C1264.6 415.0 1263.9 414.5 1263.6 413.9 C1263.2 413.3 1263.0 412.4 1263.0 411.7 C1263.0 410.9 1263.2 410.0 1263.6 409.4 C1263.9 408.8 1264.6 408.3 1265.2 408.1 C1265.8 407.9 1266.6 407.9 1267.2 408.1 C1267.7 408.3 1268.4 408.8 1268.8 409.4 C1269.1 410.0 1269.3 411.3 1269.4 411.7" stroke="#000" stroke-width="3.1" fill="none" stroke-linecap="round" stroke-linejoin="round"/>
<path d="M503.6 749.7 C501.5 748.9 495.0 746.1 490.9 744.9 C486.8 743.7 483.2 743.6 478.9 742.7 C474.7 741.7 467.7 739.8 465.5 739.2 M476.7 737.4 C474.8 737.7 465.7 737.3 465.5 739.2 C465.2 741.1 473.6 747.1 475.2 748.6 M520.8 739.7 C521.9 739.7 526.7 738.9 527.5 739.7 C528.2 740.4 525.1 742.7 525.3 744.1 C525.4 745.6 528.2 747.4 528.2 748.6 C528.2 749.9 526.9 751.4 525.3 751.6 C523.6 751.9 519.6 750.4 518.5 750.1 M544.7 741.9 C543.7 741.8 540.0 740.5 538.7 741.2 C537.4 741.8 536.5 744.6 536.9 745.6 C537.3 746.6 539.5 747.4 540.9 747.1 C542.4 746.9 544.7 744.6 545.4 744.1 M545.9 741.2 L546.5 751.6 M554.4 751.6 C554.8 750.0 555.4 742.4 556.6 741.9 C557.9 741.4 560.3 748.9 561.9 748.6 C563.5 748.4 565.1 740.0 566.4 740.4 C567.6 740.8 568.9 749.1 569.3 750.9 M594.8 742.7 L595.1 751.6 M595.1 747.1 L603.0 746.7 M603.0 740.4 L603.3 751.6 M611.2 740.4 C611.3 741.3 610.7 744.8 612.0 745.6 C613.2 746.5 617.6 745.6 618.7 745.6 M619.4 738.9 C619.3 740.7 619.9 747.6 618.7 749.4 C617.4 751.1 613.1 749.4 612.0 749.4 M626.9 750.9 C627.4 749.4 628.3 743.5 629.9 741.9 C631.5 740.3 635.3 739.9 636.6 741.2 C637.9 742.4 637.5 748.0 637.7 749.4 M525.3 764.3 C528.0 763.8 536.0 763.2 541.7 761.3 C547.4 759.5 553.4 756.6 559.6 753.1 C565.9 749.6 572.2 744.3 579.1 740.4 C585.9 736.5 597.1 731.7 600.7 729.9 M549.2 722.2 C550.9 724.0 555.6 729.2 559.6 732.9 C563.6 736.7 569.3 741.2 573.1 744.9 C576.8 748.6 578.8 752.2 582.1 755.4 C585.3 758.5 590.8 762.2 592.5 763.6" stroke="#000" stroke-width="3.1" fill="none" stroke-linecap="round" stroke-linejoin="round"/>
<path d="M576.8 738.9 L577.6 751.6 M585.0 739.7 C583.9 740.7 577.8 743.6 578.3 745.6 C578.8 747.6 586.4 750.6 588.0 751.6" stroke="#000" stroke-width="3.8" fill="none" stroke-linecap="round" stroke-linejoin="round"/>
<defs><linearGradient id="tbg" x1="0" y1="0" x2="0" y2="1"><stop offset="0" stop-color="#787878"/><stop offset="1" stop-color="#3b3b3b"/></linearGradient><linearGradient id="dim" x1="0" y1="0" x2="0" y2="1"><stop offset="0" stop-color="#8c8c8c"/><stop offset="1" stop-color="#6a6a6a"/></linearGradient><linearGradient id="lit" x1="0" y1="0" x2="0" y2="1"><stop offset="0" stop-color="#f4f4f4"/><stop offset="1" stop-color="#a2a2a2"/></linearGradient><filter id="sh" x="-5%" y="-20%" width="110%" height="150%"><feGaussianBlur stdDeviation="2.2"/></filter></defs>
<rect x="490" y="918" width="365" height="45" rx="22.5" fill="#000" opacity="0.35" filter="url(#sh)"/>
<rect x="488" y="914.2" width="368.8" height="45.2" rx="22.6" fill="url(#tbg)"/>
<path d="M518 927H535L538.3 930.3V947.2H518Z M521.8 927V934.5H533.5V927Z M528.8 928.2H531V933.2H528.8Z M521.5 938.6H534.8V947.2H521.5Z" fill="url(#dim)" fill-rule="evenodd"/>
<rect x="521.8" y="927" width="11.7" height="7.5" fill="#5a5a5a" opacity="0.55"/><rect x="528.8" y="928.2" width="2.2" height="5" fill="url(#dim)"/>
<rect x="521.5" y="938.6" width="13.3" height="8.6" fill="#626262" opacity="0.5"/>
<path d="M555 926.6H567.6V934H555Z" fill="url(#lit)"/>
<path d="M552.6 934Q549.8 934 549.8 937V944.2H554.4V940.6H568.2V944.2H572.8V937Q572.8 934 570 934Z" fill="url(#lit)"/>
<path d="M554.8 941.8H567.8V948.6H554.8Z" fill="url(#lit)"/>
<rect x="554.4" y="940.4" width="13.8" height="1.3" fill="#4a4a4a"/>
<rect x="583.0" y="924.2" width="1.3" height="25.6" fill="#a0a0a0"/>
<rect x="720.0" y="924.2" width="1.3" height="25.6" fill="#a0a0a0"/>
<rect x="795.0" y="924.2" width="1.3" height="25.6" fill="#a0a0a0"/>
<path d="M605 927L615.4 937.6H609.8V946.8H600.2V937.6H594.6Z" fill="url(#dim)"/>
<path d="M636.9 946.8L626.5 936.2H632.1V927H641.7V936.2H647.3Z" fill="url(#dim)"/>
<rect x="658.2" y="925.4" width="27.4" height="23.2" fill="none" stroke="#a8a8a8" stroke-width="1"/>
<text x="671.8" y="941.8" text-anchor="middle" font-family="Liberation Sans" font-size="13.5" font-weight="bold" fill="#fff">1</text>
<text x="691.8" y="941.8" font-family="Liberation Sans" font-size="13.5" font-weight="bold" fill="#fff" textLength="18" lengthAdjust="spacing">/ 1</text>
<rect x="731.6" y="934.2" width="20.8" height="5.6" rx="0.8" fill="url(#lit)"/>
<path d="M771.6 926.6H777.2V934.2H784.6V939.8H777.2V947.4H771.6V939.8H764.2V934.2H771.6Z" fill="url(#lit)"/>
<circle cx="816.6" cy="936.9" r="9.6" fill="none" stroke="#e6e6e6" stroke-width="2"/>
<path d="M812.6 932.9L820.6 940.9M820.6 932.9L812.6 940.9" stroke="#f0f0f0" stroke-width="3" stroke-linecap="butt"/>
</svg>
</body></html>
